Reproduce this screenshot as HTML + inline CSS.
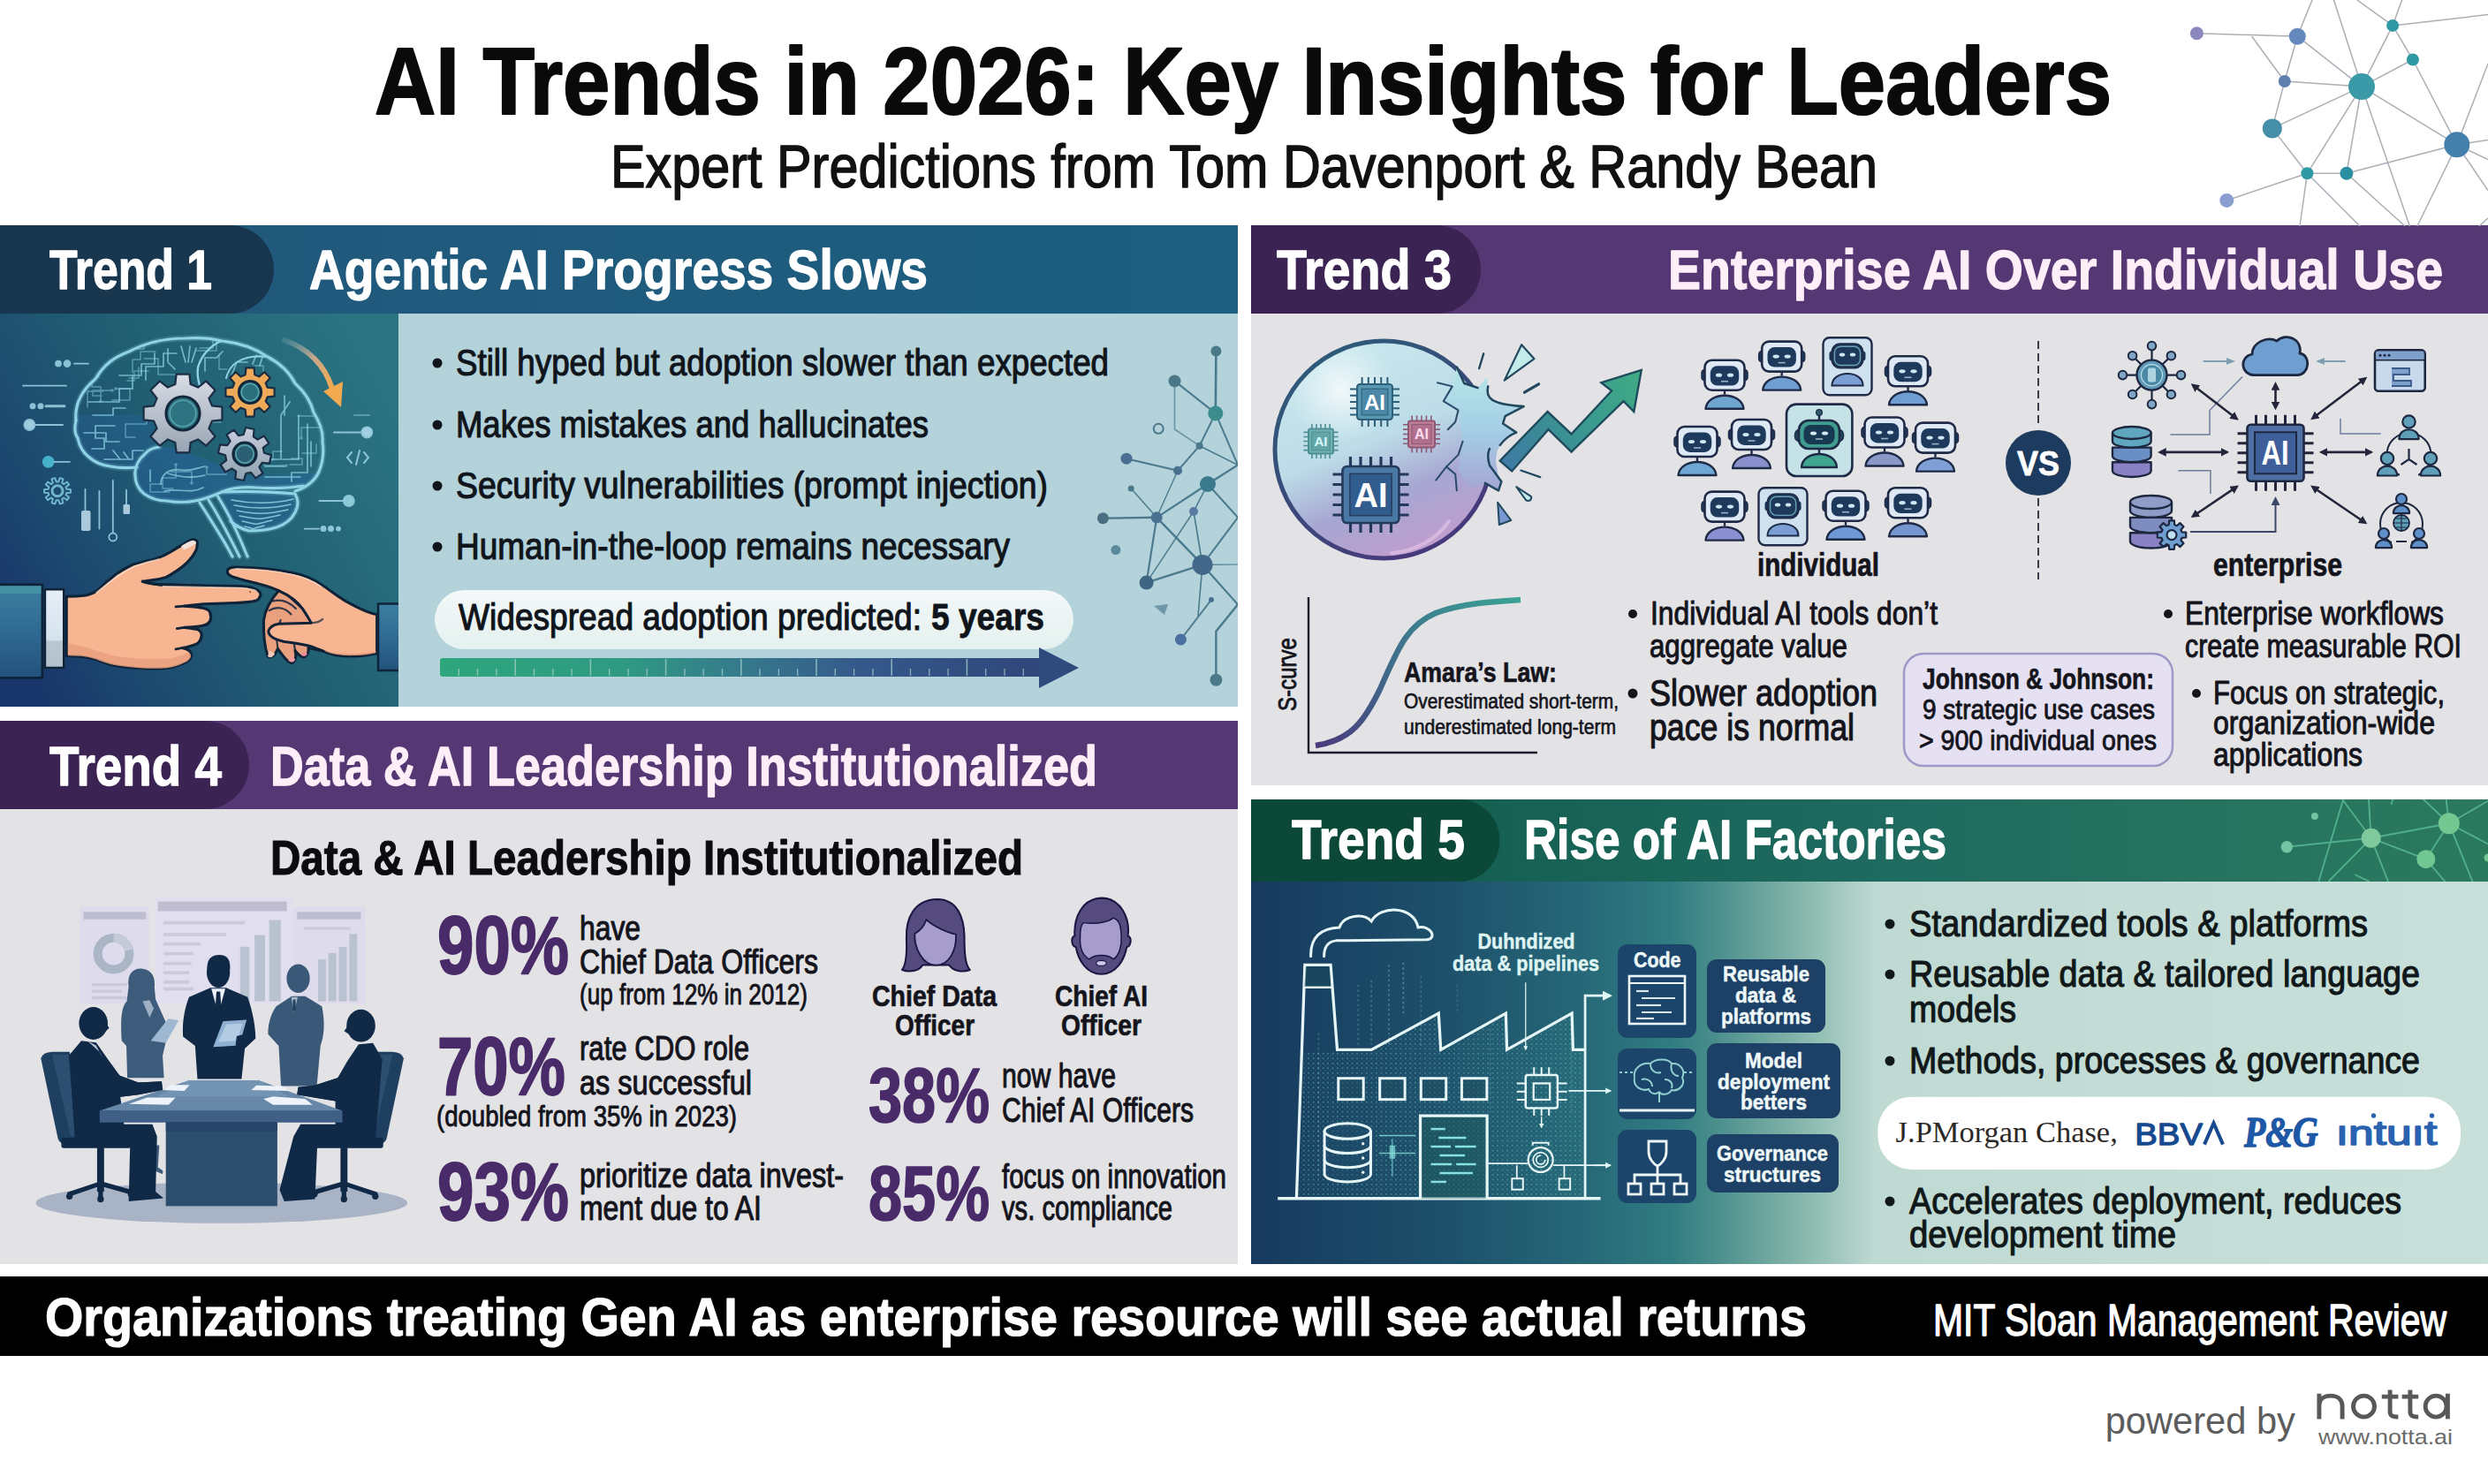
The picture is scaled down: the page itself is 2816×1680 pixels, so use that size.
<!DOCTYPE html>
<html><head><meta charset="utf-8"><title>AI Trends in 2026</title>
<style>
html,body{margin:0;padding:0;background:#fff;}
body{width:2816px;height:1680px;overflow:hidden;font-family:"Liberation Sans",sans-serif;}
svg{display:block}
</style></head><body>
<svg width="2816" height="1680" viewBox="0 0 2816 1680">
<defs>
<linearGradient id="gT1img" x1="0" y1="0.75" x2="1" y2="0.2">
 <stop offset="0" stop-color="#19376a"/><stop offset="0.18" stop-color="#1c486f"/><stop offset="0.5" stop-color="#215e73"/><stop offset="1" stop-color="#2b7583"/>
</linearGradient>
<linearGradient id="gT1hdr" x1="0" y1="0" x2="1" y2="0">
 <stop offset="0" stop-color="#22577a"/><stop offset="1" stop-color="#1c5f80"/>
</linearGradient>
<linearGradient id="gBar" x1="0" y1="0" x2="1" y2="0">
 <stop offset="0" stop-color="#2ea67c"/><stop offset="0.3" stop-color="#2f9a82"/><stop offset="0.5" stop-color="#357a8c"/><stop offset="0.7" stop-color="#35588a"/><stop offset="1" stop-color="#2f467a"/>
</linearGradient>
<linearGradient id="gPill" x1="0" y1="0" x2="0" y2="1">
 <stop offset="0" stop-color="#f4f8f9"/><stop offset="1" stop-color="#e4f1ee"/>
</linearGradient>
<linearGradient id="gT5hdr" x1="0" y1="0" x2="1" y2="0">
 <stop offset="0" stop-color="#0f5a49"/><stop offset="0.5" stop-color="#1e6a60"/><stop offset="1" stop-color="#2b7a5e"/>
</linearGradient>
<linearGradient id="gT5body" x1="0" y1="0" x2="1" y2="0">
 <stop offset="0" stop-color="#173a5e"/><stop offset="0.156" stop-color="#1d506b"/><stop offset="0.277" stop-color="#276a79"/><stop offset="0.34" stop-color="#317c82"/><stop offset="0.375" stop-color="#4a8e8c"/><stop offset="0.419" stop-color="#70a8a0"/><stop offset="0.459" stop-color="#93bfb4"/><stop offset="0.505" stop-color="#bfdad3"/><stop offset="1" stop-color="#c9e0da"/>
</linearGradient>
<linearGradient id="gT5v" x1="0" y1="0" x2="0" y2="1">
 <stop offset="0" stop-color="#0b3a4a" stop-opacity="0.25"/><stop offset="0.3" stop-color="#0b3a4a" stop-opacity="0"/><stop offset="1" stop-color="#0b3a4a" stop-opacity="0"/>
</linearGradient>
<clipPath id="clipT1r"><rect x="451" y="355" width="950" height="445"/></clipPath>
<clipPath id="clipT1l"><rect x="0" y="352" width="451" height="448"/></clipPath>
<clipPath id="clipT5h"><rect x="1416" y="905" width="1400" height="93"/></clipPath>
<clipPath id="clipBrain"><path d="M86 476C84 455 95 440 108 429C118 412 130 404 146 398C165 388 188 383 209 383C225 382 240 383 251 386C272 388 290 395 303 404C318 412 328 422 334 434C345 444 352 455 355 467C362 478 366 489 365 500C367 512 365 524 361 534C356 545 346 552 334 556L290 552C275 551 262 552 251 557C242 561 233 565 221 567C211 569 200 569 188 567C178 567 170 564 163 559C157 554 153 547 153 538L155 529C145 530 135 530 125 528C116 527 108 524 100 517C94 512 90 506 88 496C85 492 84 485 86 476Z"/></clipPath>

</defs>
<rect width="2816" height="1680" fill="#ffffff"/>
<!-- 10_panels.py -->
<rect x="0" y="352" width="451" height="448" fill="url(#gT1img)"/>
<rect x="451" y="355" width="950" height="445" fill="#b3d2da"/>
<rect x="0" y="255" width="1401" height="100" fill="url(#gT1hdr)"/>
<path d="M0 255H260a50 50 0 0 1 0 100H0Z" fill="#18374f"/>
<rect x="1416" y="355" width="1400" height="534" fill="#e3e3e6"/>
<rect x="1416" y="255" width="1400" height="100" fill="#553873"/>
<path d="M1416 255H1626a50 50 0 0 1 0 100H1416Z" fill="#3b2354"/>
<rect x="0" y="916" width="1401" height="515" fill="#e3e3e6"/>
<rect x="0" y="816" width="1401" height="100" fill="#553873"/>
<path d="M0 816H232a50 50 0 0 1 0 100H0Z" fill="#3b2354"/>
<rect x="1416" y="997" width="1400" height="434" fill="url(#gT5body)"/>
<rect x="1416" y="905" width="1400" height="93" fill="url(#gT5hdr)"/>
<path d="M1416 905H1651a46.500 46.500 0 0 1 0 93H1416Z" fill="#0b4838"/>
<rect x="0" y="1445" width="2816" height="90" fill="#000"/>
<!-- 15_net_top.py -->
<g stroke="#a7abb2" stroke-width="1.5" fill="none" opacity="0.95">
<path d="M2486.4 37.7L2600.3 41.2"/>
<path d="M2600.3 41.2L2585.8 92"/>
<path d="M2600.3 41.2L2673 98.1"/>
<path d="M2548.6 41L2585.8 92"/>
<path d="M2600.3 41.2L2617 0"/>
<path d="M2673 98.1L2641.5 0"/>
<path d="M2708.1 28.9L2673 98.1"/>
<path d="M2708.1 28.9L2718.6 0"/>
<path d="M2708.1 28.9L2667.8 0"/>
<path d="M2708.1 28.9L2816 16.6"/>
<path d="M2708.1 28.9L2730.9 67.5"/>
<path d="M2730.9 67.5L2673 98.1"/>
<path d="M2730.9 67.5L2780.8 163.8"/>
<path d="M2585.8 92L2673 98.1"/>
<path d="M2585.8 92L2571.8 145.4"/>
<path d="M2571.8 145.4L2673 98.1"/>
<path d="M2571.8 145.4L2611.4 196.3"/>
<path d="M2673 98.1L2611.4 196.3"/>
<path d="M2673 98.1L2655.9 196.3"/>
<path d="M2673 98.1L2780.8 163.8"/>
<path d="M2673 98.1L2727.4 256"/>
<path d="M2611.4 196.3L2655.9 196.3"/>
<path d="M2611.4 196.3L2520.3 226.9"/>
<path d="M2655.9 196.3L2780.8 163.8"/>
<path d="M2655.9 196.3L2722 256"/>
<path d="M2611.4 196.3L2603 256"/>
<path d="M2611.4 196.3L2671 256"/>
<path d="M2780.8 163.8L2816 72"/>
<path d="M2780.8 163.8L2736 256"/>
<path d="M2780.8 163.8L2816 158.6"/>
<path d="M2780.8 163.8L2816 180.5"/>
<path d="M2780.8 163.8L2816 215.5"/>
<path d="M2806 256L2816 247"/>
</g>
<circle cx="2486.4" cy="37.7" r="7.5" fill="#8a88bd"/>
<circle cx="2600.3" cy="41.2" r="9.5" fill="#6588bd"/>
<circle cx="2708.1" cy="28.9" r="7" fill="#2f9aa4"/>
<circle cx="2730.9" cy="67.5" r="7" fill="#2f9aa4"/>
<circle cx="2585.8" cy="92" r="7" fill="#5f7fae"/>
<circle cx="2673" cy="98.1" r="15" fill="#3b9aa8"/>
<circle cx="2571.8" cy="145.4" r="11" fill="#4590a8"/>
<circle cx="2780.8" cy="163.8" r="14.5" fill="#4580ad"/>
<circle cx="2611.4" cy="196.3" r="7" fill="#2f9aa4"/>
<circle cx="2655.9" cy="196.3" r="7.5" fill="#2a8fa0"/>
<circle cx="2520.3" cy="226.9" r="8" fill="#8a9fcf"/>
<!-- 20_text_head.py -->
<text x="424" y="128.5" font-size="108" font-weight="bold" fill="#0a0a0a" font-family="Liberation Sans, sans-serif" stroke="#0a0a0a" stroke-width="2.16" stroke-linejoin="round" textLength="1966" lengthAdjust="spacingAndGlyphs" >AI Trends in 2026: Key Insights for Leaders</text>
<text x="691" y="211.5" font-size="69" font-weight="normal" fill="#111" font-family="Liberation Sans, sans-serif" stroke="#111" stroke-width="1.5" stroke-linejoin="round" textLength="1434" lengthAdjust="spacingAndGlyphs" >Expert Predictions from Tom Davenport &amp; Randy Bean</text>
<text x="56" y="327" font-size="63" font-weight="bold" fill="#fff" font-family="Liberation Sans, sans-serif" stroke="#fff" stroke-width="1.26" stroke-linejoin="round" textLength="184" lengthAdjust="spacingAndGlyphs" >Trend 1</text>
<text x="350" y="327" font-size="63" font-weight="bold" fill="#fff" font-family="Liberation Sans, sans-serif" stroke="#fff" stroke-width="1.26" stroke-linejoin="round" textLength="700" lengthAdjust="spacingAndGlyphs" >Agentic AI Progress Slows</text>
<text x="1445" y="327" font-size="63" font-weight="bold" fill="#fff" font-family="Liberation Sans, sans-serif" stroke="#fff" stroke-width="1.26" stroke-linejoin="round" textLength="198" lengthAdjust="spacingAndGlyphs" >Trend 3</text>
<text x="1888" y="327" font-size="63" font-weight="bold" fill="#fdeef8" font-family="Liberation Sans, sans-serif" stroke="#fdeef8" stroke-width="1.26" stroke-linejoin="round" textLength="877" lengthAdjust="spacingAndGlyphs" >Enterprise AI Over Individual Use</text>
<text x="56" y="889" font-size="63" font-weight="bold" fill="#fff" font-family="Liberation Sans, sans-serif" stroke="#fff" stroke-width="1.26" stroke-linejoin="round" textLength="195" lengthAdjust="spacingAndGlyphs" >Trend 4</text>
<text x="306" y="889" font-size="63" font-weight="bold" fill="#fdeef8" font-family="Liberation Sans, sans-serif" stroke="#fdeef8" stroke-width="1.26" stroke-linejoin="round" textLength="936" lengthAdjust="spacingAndGlyphs" >Data &amp; AI Leadership Institutionalized</text>
<text x="1462" y="972" font-size="63" font-weight="bold" fill="#fff" font-family="Liberation Sans, sans-serif" stroke="#fff" stroke-width="1.26" stroke-linejoin="round" textLength="196" lengthAdjust="spacingAndGlyphs" >Trend 5</text>
<text x="1725" y="972" font-size="63" font-weight="bold" fill="#fff" font-family="Liberation Sans, sans-serif" stroke="#fff" stroke-width="1.26" stroke-linejoin="round" textLength="478" lengthAdjust="spacingAndGlyphs" >Rise of AI Factories</text>
<text x="51" y="1512" font-size="62" font-weight="bold" fill="#fff" font-family="Liberation Sans, sans-serif" stroke="#fff" stroke-width="1.24" stroke-linejoin="round" textLength="1994" lengthAdjust="spacingAndGlyphs" >Organizations treating Gen AI as enterprise resource will see actual returns</text>
<text x="2188" y="1512" font-size="50" font-weight="normal" fill="#fff" font-family="Liberation Sans, sans-serif" stroke="#fff" stroke-width="1.4" stroke-linejoin="round" textLength="581" lengthAdjust="spacingAndGlyphs" >MIT Sloan Management Review</text>
<text x="2382.7" y="1623.3" font-size="43" font-weight="normal" fill="#5c5c5c" font-family="Liberation Sans, sans-serif" textLength="215.2" lengthAdjust="spacingAndGlyphs" >powered by</text>
<g fill="none" stroke="#585858" stroke-width="4.900" stroke-linecap="butt" stroke-linejoin="round"><path d="M2624.900 1577.700V1606.400M2624.900 1591C2624.900 1584 2630.500 1580.100 2638 1580.100C2645.500 1580.100 2651.100 1584 2651.100 1592V1606.400"/><circle cx="2675.500" cy="1592.100" r="12"/><path d="M2705.100 1573.500V1598C2705.100 1603 2708 1604.300 2714.400 1603.900M2695.800 1581.100H2714.400"/><path d="M2727.900 1573.500V1598C2727.900 1603 2730.800 1604.300 2737.200 1603.900M2718.600 1581.100H2737.200"/><circle cx="2757.100" cy="1592.100" r="12"/><path d="M2770.400 1577.700V1606.400"/></g>
<text x="2624" y="1635" font-size="24" font-weight="normal" fill="#6a6a6a" font-family="Liberation Sans, sans-serif" textLength="152" lengthAdjust="spacingAndGlyphs" >www.notta.ai</text>
<!-- 30_text_t1.py -->
<circle cx="495" cy="411" r="5.5" fill="#10151c"/>
<text x="516" y="425" font-size="42" font-weight="normal" fill="#10151c" font-family="Liberation Sans, sans-serif" stroke="#10151c" stroke-width="1.18" stroke-linejoin="round" textLength="739" lengthAdjust="spacingAndGlyphs" >Still hyped but adoption slower than expected</text>
<circle cx="495" cy="481" r="5.5" fill="#10151c"/>
<text x="516" y="495" font-size="42" font-weight="normal" fill="#10151c" font-family="Liberation Sans, sans-serif" stroke="#10151c" stroke-width="1.18" stroke-linejoin="round" textLength="535" lengthAdjust="spacingAndGlyphs" >Makes mistakes and hallucinates</text>
<circle cx="495" cy="550" r="5.5" fill="#10151c"/>
<text x="516" y="564" font-size="42" font-weight="normal" fill="#10151c" font-family="Liberation Sans, sans-serif" stroke="#10151c" stroke-width="1.18" stroke-linejoin="round" textLength="670" lengthAdjust="spacingAndGlyphs" >Security vulnerabilities (prompt injection)</text>
<circle cx="495" cy="619" r="5.5" fill="#10151c"/>
<text x="516" y="633" font-size="42" font-weight="normal" fill="#10151c" font-family="Liberation Sans, sans-serif" stroke="#10151c" stroke-width="1.18" stroke-linejoin="round" textLength="627" lengthAdjust="spacingAndGlyphs" >Human-in-the-loop remains necessary</text>
<rect x="492" y="668" width="723" height="67" rx="33.5" fill="url(#gPill)"/>
<text x="519" y="713" font-size="42" font-weight="normal" fill="#10151c" font-family="Liberation Sans, sans-serif" stroke="#10151c" stroke-width="1.18" stroke-linejoin="round" textLength="524" lengthAdjust="spacingAndGlyphs" >Widespread adoption predicted:</text>
<text x="1054" y="713" font-size="42" font-weight="bold" fill="#10151c" font-family="Liberation Sans, sans-serif" stroke="#10151c" stroke-width="0.84" stroke-linejoin="round" textLength="128" lengthAdjust="spacingAndGlyphs" >5 years</text>
<rect x="498" y="745" width="682" height="21" rx="3" fill="url(#gBar)"/>
<path d="M1176 733L1221 756L1176 779Z" fill="#2f4a7c"/>
<path d="M519.3 757V765" stroke="#bfe0dc" stroke-width="1.4" opacity="0.6"/>
<path d="M540.6 757V765" stroke="#bfe0dc" stroke-width="1.4" opacity="0.6"/>
<path d="M561.9 757V765" stroke="#bfe0dc" stroke-width="1.4" opacity="0.6"/>
<path d="M583.2 746V765" stroke="#9fd0c8" stroke-width="1.6" opacity="0.75"/>
<path d="M604.5 757V765" stroke="#bfe0dc" stroke-width="1.4" opacity="0.6"/>
<path d="M625.8 757V765" stroke="#bfe0dc" stroke-width="1.4" opacity="0.6"/>
<path d="M647.1 757V765" stroke="#bfe0dc" stroke-width="1.4" opacity="0.6"/>
<path d="M668.4 746V765" stroke="#9fd0c8" stroke-width="1.6" opacity="0.75"/>
<path d="M689.7 757V765" stroke="#bfe0dc" stroke-width="1.4" opacity="0.6"/>
<path d="M711.0 757V765" stroke="#bfe0dc" stroke-width="1.4" opacity="0.6"/>
<path d="M732.3 757V765" stroke="#bfe0dc" stroke-width="1.4" opacity="0.6"/>
<path d="M753.6 746V765" stroke="#9fd0c8" stroke-width="1.6" opacity="0.75"/>
<path d="M774.9 757V765" stroke="#bfe0dc" stroke-width="1.4" opacity="0.6"/>
<path d="M796.2 757V765" stroke="#bfe0dc" stroke-width="1.4" opacity="0.6"/>
<path d="M817.5 757V765" stroke="#bfe0dc" stroke-width="1.4" opacity="0.6"/>
<path d="M838.8 746V765" stroke="#9fd0c8" stroke-width="1.6" opacity="0.75"/>
<path d="M860.1 757V765" stroke="#bfe0dc" stroke-width="1.4" opacity="0.6"/>
<path d="M881.4 757V765" stroke="#bfe0dc" stroke-width="1.4" opacity="0.6"/>
<path d="M902.7 757V765" stroke="#bfe0dc" stroke-width="1.4" opacity="0.6"/>
<path d="M924.0 746V765" stroke="#9fd0c8" stroke-width="1.6" opacity="0.75"/>
<path d="M945.3 757V765" stroke="#bfe0dc" stroke-width="1.4" opacity="0.6"/>
<path d="M966.6 757V765" stroke="#bfe0dc" stroke-width="1.4" opacity="0.6"/>
<path d="M987.9 757V765" stroke="#bfe0dc" stroke-width="1.4" opacity="0.6"/>
<path d="M1009.2 746V765" stroke="#9fd0c8" stroke-width="1.6" opacity="0.75"/>
<path d="M1030.5 757V765" stroke="#bfe0dc" stroke-width="1.4" opacity="0.6"/>
<path d="M1051.8 757V765" stroke="#bfe0dc" stroke-width="1.4" opacity="0.6"/>
<path d="M1073.1 757V765" stroke="#bfe0dc" stroke-width="1.4" opacity="0.6"/>
<path d="M1094.4 746V765" stroke="#9fd0c8" stroke-width="1.6" opacity="0.75"/>
<path d="M1115.7 757V765" stroke="#bfe0dc" stroke-width="1.4" opacity="0.6"/>
<path d="M1137.0 757V765" stroke="#bfe0dc" stroke-width="1.4" opacity="0.6"/>
<path d="M1158.3 757V765" stroke="#bfe0dc" stroke-width="1.4" opacity="0.6"/>
<!-- 31_text_t3.py -->
<text x="1989" y="652" font-size="36" font-weight="bold" fill="#14141c" font-family="Liberation Sans, sans-serif" stroke="#14141c" stroke-width="0.72" stroke-linejoin="round" textLength="138" lengthAdjust="spacingAndGlyphs" >individual</text>
<text x="2505" y="652" font-size="36" font-weight="bold" fill="#14141c" font-family="Liberation Sans, sans-serif" stroke="#14141c" stroke-width="0.72" stroke-linejoin="round" textLength="146" lengthAdjust="spacingAndGlyphs" >enterprise</text>
<circle cx="1848" cy="695" r="5" fill="#14141c"/>
<text x="1868" y="707" font-size="37" font-weight="normal" fill="#14141c" font-family="Liberation Sans, sans-serif" stroke="#14141c" stroke-width="1.04" stroke-linejoin="round" textLength="325" lengthAdjust="spacingAndGlyphs" >Individual AI tools don’t</text>
<text x="1867" y="743.5" font-size="37" font-weight="normal" fill="#14141c" font-family="Liberation Sans, sans-serif" stroke="#14141c" stroke-width="1.04" stroke-linejoin="round" textLength="224" lengthAdjust="spacingAndGlyphs" >aggregate value</text>
<circle cx="1848" cy="785" r="5.5" fill="#14141c"/>
<text x="1867" y="799" font-size="42" font-weight="normal" fill="#14141c" font-family="Liberation Sans, sans-serif" stroke="#14141c" stroke-width="1.18" stroke-linejoin="round" textLength="258" lengthAdjust="spacingAndGlyphs" >Slower adoption</text>
<text x="1867" y="838" font-size="42" font-weight="normal" fill="#14141c" font-family="Liberation Sans, sans-serif" stroke="#14141c" stroke-width="1.18" stroke-linejoin="round" textLength="232" lengthAdjust="spacingAndGlyphs" >pace is normal</text>
<circle cx="2454" cy="695" r="5" fill="#14141c"/>
<text x="2473" y="707" font-size="37" font-weight="normal" fill="#14141c" font-family="Liberation Sans, sans-serif" stroke="#14141c" stroke-width="1.04" stroke-linejoin="round" textLength="293" lengthAdjust="spacingAndGlyphs" >Enterprise workflows</text>
<text x="2473" y="743.5" font-size="37" font-weight="normal" fill="#14141c" font-family="Liberation Sans, sans-serif" stroke="#14141c" stroke-width="1.04" stroke-linejoin="round" textLength="313" lengthAdjust="spacingAndGlyphs" >create measurable ROI</text>
<circle cx="2486" cy="785" r="5" fill="#14141c"/>
<text x="2505" y="797" font-size="37" font-weight="normal" fill="#14141c" font-family="Liberation Sans, sans-serif" stroke="#14141c" stroke-width="1.04" stroke-linejoin="round" textLength="262" lengthAdjust="spacingAndGlyphs" >Focus on strategic,</text>
<text x="2505" y="831" font-size="37" font-weight="normal" fill="#14141c" font-family="Liberation Sans, sans-serif" stroke="#14141c" stroke-width="1.04" stroke-linejoin="round" textLength="251" lengthAdjust="spacingAndGlyphs" >organization-wide</text>
<text x="2505" y="867" font-size="37" font-weight="normal" fill="#14141c" font-family="Liberation Sans, sans-serif" stroke="#14141c" stroke-width="1.04" stroke-linejoin="round" textLength="169" lengthAdjust="spacingAndGlyphs" >applications</text>
<rect x="2155" y="740" width="304" height="127" rx="22" fill="#e5e1f2" stroke="#9d99c6" stroke-width="2.5"/>
<text x="2176" y="780" font-size="33" font-weight="bold" fill="#14141c" font-family="Liberation Sans, sans-serif" stroke="#14141c" stroke-width="0.66" stroke-linejoin="round" textLength="262" lengthAdjust="spacingAndGlyphs" >Johnson &amp; Johnson:</text>
<text x="2176" y="814" font-size="32" font-weight="normal" fill="#14141c" font-family="Liberation Sans, sans-serif" stroke="#14141c" stroke-width="0.9" stroke-linejoin="round" textLength="263" lengthAdjust="spacingAndGlyphs" >9 strategic use cases</text>
<text x="2172" y="849" font-size="32" font-weight="normal" fill="#14141c" font-family="Liberation Sans, sans-serif" stroke="#14141c" stroke-width="0.9" stroke-linejoin="round" textLength="269" lengthAdjust="spacingAndGlyphs" >&gt; 900 individual ones</text>
<text x="1589" y="772" font-size="31" font-weight="bold" fill="#14141c" font-family="Liberation Sans, sans-serif" stroke="#14141c" stroke-width="0.62" stroke-linejoin="round" textLength="173" lengthAdjust="spacingAndGlyphs" >Amara’s Law:</text>
<text x="1589" y="802" font-size="24" font-weight="normal" fill="#14141c" font-family="Liberation Sans, sans-serif" stroke="#14141c" stroke-width="0.67" stroke-linejoin="round" textLength="243" lengthAdjust="spacingAndGlyphs" >Overestimated short-term,</text>
<text x="1589" y="831" font-size="24" font-weight="normal" fill="#14141c" font-family="Liberation Sans, sans-serif" stroke="#14141c" stroke-width="0.67" stroke-linejoin="round" textLength="240" lengthAdjust="spacingAndGlyphs" >underestimated long-term</text>
<path d="M1481 676V852H1740" fill="none" stroke="#1b1b2a" stroke-width="2.4"/>
<g transform="translate(1467,805) rotate(-90)"><text x="0" y="0" font-size="30" font-weight="normal" fill="#14141c" font-family="Liberation Sans, sans-serif" stroke="#14141c" stroke-width="0.84" stroke-linejoin="round" textLength="83" lengthAdjust="spacingAndGlyphs" >S-curve</text></g>
<!-- 32_text_t4.py -->
<text x="306" y="990" font-size="56" font-weight="bold" fill="#0c0c10" font-family="Liberation Sans, sans-serif" stroke="#0c0c10" stroke-width="1.12" stroke-linejoin="round" textLength="852" lengthAdjust="spacingAndGlyphs" >Data &amp; AI Leadership Institutionalized</text>
<text x="495" y="1102" font-size="92" font-weight="bold" fill="#4a2b69" font-family="Liberation Sans, sans-serif" stroke="#4a2b69" stroke-width="1.84" stroke-linejoin="round" textLength="149" lengthAdjust="spacingAndGlyphs" >90%</text>
<text x="656" y="1064" font-size="38" font-weight="normal" fill="#14141c" font-family="Liberation Sans, sans-serif" stroke="#14141c" stroke-width="1.06" stroke-linejoin="round" textLength="69" lengthAdjust="spacingAndGlyphs" >have</text>
<text x="656" y="1102" font-size="38" font-weight="normal" fill="#14141c" font-family="Liberation Sans, sans-serif" stroke="#14141c" stroke-width="1.06" stroke-linejoin="round" textLength="270" lengthAdjust="spacingAndGlyphs" >Chief Data Officers</text>
<text x="656" y="1137" font-size="33" font-weight="normal" fill="#14141c" font-family="Liberation Sans, sans-serif" stroke="#14141c" stroke-width="0.92" stroke-linejoin="round" textLength="258" lengthAdjust="spacingAndGlyphs" >(up from 12% in 2012)</text>
<text x="495" y="1239" font-size="92" font-weight="bold" fill="#4a2b69" font-family="Liberation Sans, sans-serif" stroke="#4a2b69" stroke-width="1.84" stroke-linejoin="round" textLength="145" lengthAdjust="spacingAndGlyphs" >70%</text>
<text x="656" y="1200" font-size="38" font-weight="normal" fill="#14141c" font-family="Liberation Sans, sans-serif" stroke="#14141c" stroke-width="1.06" stroke-linejoin="round" textLength="192" lengthAdjust="spacingAndGlyphs" >rate CDO role</text>
<text x="656" y="1239" font-size="38" font-weight="normal" fill="#14141c" font-family="Liberation Sans, sans-serif" stroke="#14141c" stroke-width="1.06" stroke-linejoin="round" textLength="195" lengthAdjust="spacingAndGlyphs" >as successful</text>
<text x="494" y="1275" font-size="33" font-weight="normal" fill="#14141c" font-family="Liberation Sans, sans-serif" stroke="#14141c" stroke-width="0.92" stroke-linejoin="round" textLength="340" lengthAdjust="spacingAndGlyphs" >(doubled from 35% in 2023)</text>
<text x="495" y="1381" font-size="92" font-weight="bold" fill="#4a2b69" font-family="Liberation Sans, sans-serif" stroke="#4a2b69" stroke-width="1.84" stroke-linejoin="round" textLength="149" lengthAdjust="spacingAndGlyphs" >93%</text>
<text x="656" y="1344" font-size="38" font-weight="normal" fill="#14141c" font-family="Liberation Sans, sans-serif" stroke="#14141c" stroke-width="1.06" stroke-linejoin="round" textLength="299" lengthAdjust="spacingAndGlyphs" >prioritize data invest-</text>
<text x="656" y="1381" font-size="38" font-weight="normal" fill="#14141c" font-family="Liberation Sans, sans-serif" stroke="#14141c" stroke-width="1.06" stroke-linejoin="round" textLength="206" lengthAdjust="spacingAndGlyphs" >ment due to AI</text>
<text x="987" y="1139" font-size="34" font-weight="bold" fill="#14141c" font-family="Liberation Sans, sans-serif" stroke="#14141c" stroke-width="0.68" stroke-linejoin="round" textLength="141" lengthAdjust="spacingAndGlyphs" >Chief Data</text>
<text x="1013" y="1172" font-size="34" font-weight="bold" fill="#14141c" font-family="Liberation Sans, sans-serif" stroke="#14141c" stroke-width="0.68" stroke-linejoin="round" textLength="90" lengthAdjust="spacingAndGlyphs" >Officer</text>
<text x="1194" y="1139" font-size="34" font-weight="bold" fill="#14141c" font-family="Liberation Sans, sans-serif" stroke="#14141c" stroke-width="0.68" stroke-linejoin="round" textLength="105" lengthAdjust="spacingAndGlyphs" >Chief AI</text>
<text x="1201" y="1172" font-size="34" font-weight="bold" fill="#14141c" font-family="Liberation Sans, sans-serif" stroke="#14141c" stroke-width="0.68" stroke-linejoin="round" textLength="91" lengthAdjust="spacingAndGlyphs" >Officer</text>
<text x="983" y="1270" font-size="87" font-weight="bold" fill="#4a2b69" font-family="Liberation Sans, sans-serif" stroke="#4a2b69" stroke-width="1.74" stroke-linejoin="round" textLength="137" lengthAdjust="spacingAndGlyphs" >38%</text>
<text x="1134" y="1231" font-size="38" font-weight="normal" fill="#14141c" font-family="Liberation Sans, sans-serif" stroke="#14141c" stroke-width="1.06" stroke-linejoin="round" textLength="129" lengthAdjust="spacingAndGlyphs" >now have</text>
<text x="1134" y="1270" font-size="38" font-weight="normal" fill="#14141c" font-family="Liberation Sans, sans-serif" stroke="#14141c" stroke-width="1.06" stroke-linejoin="round" textLength="217" lengthAdjust="spacingAndGlyphs" >Chief AI Officers</text>
<text x="983" y="1381" font-size="87" font-weight="bold" fill="#4a2b69" font-family="Liberation Sans, sans-serif" stroke="#4a2b69" stroke-width="1.74" stroke-linejoin="round" textLength="137" lengthAdjust="spacingAndGlyphs" >85%</text>
<text x="1134" y="1345" font-size="38" font-weight="normal" fill="#14141c" font-family="Liberation Sans, sans-serif" stroke="#14141c" stroke-width="1.06" stroke-linejoin="round" textLength="254" lengthAdjust="spacingAndGlyphs" >focus on innovation</text>
<text x="1134" y="1381" font-size="38" font-weight="normal" fill="#14141c" font-family="Liberation Sans, sans-serif" stroke="#14141c" stroke-width="1.06" stroke-linejoin="round" textLength="193" lengthAdjust="spacingAndGlyphs" >vs. compliance</text>
<!-- 33_text_t5.py -->
<circle cx="2139" cy="1046" r="5.5" fill="#10181a"/>
<text x="2161" y="1060" font-size="42" font-weight="normal" fill="#10181a" font-family="Liberation Sans, sans-serif" stroke="#10181a" stroke-width="1.18" stroke-linejoin="round" textLength="519" lengthAdjust="spacingAndGlyphs" >Standardized tools &amp; platforms</text>
<circle cx="2139" cy="1103" r="5.5" fill="#10181a"/>
<text x="2161" y="1117" font-size="42" font-weight="normal" fill="#10181a" font-family="Liberation Sans, sans-serif" stroke="#10181a" stroke-width="1.18" stroke-linejoin="round" textLength="578" lengthAdjust="spacingAndGlyphs" >Reusable data &amp; tailored language</text>
<text x="2161" y="1157" font-size="42" font-weight="normal" fill="#10181a" font-family="Liberation Sans, sans-serif" stroke="#10181a" stroke-width="1.18" stroke-linejoin="round" textLength="121" lengthAdjust="spacingAndGlyphs" >models</text>
<circle cx="2139" cy="1201" r="5.5" fill="#10181a"/>
<text x="2161" y="1215" font-size="42" font-weight="normal" fill="#10181a" font-family="Liberation Sans, sans-serif" stroke="#10181a" stroke-width="1.18" stroke-linejoin="round" textLength="578" lengthAdjust="spacingAndGlyphs" >Methods, processes &amp; governance</text>
<circle cx="2139" cy="1360" r="5.5" fill="#10181a"/>
<text x="2161" y="1374" font-size="42" font-weight="normal" fill="#10181a" font-family="Liberation Sans, sans-serif" stroke="#10181a" stroke-width="1.18" stroke-linejoin="round" textLength="557" lengthAdjust="spacingAndGlyphs" >Accelerates deployment, reduces</text>
<text x="2161" y="1412" font-size="42" font-weight="normal" fill="#10181a" font-family="Liberation Sans, sans-serif" stroke="#10181a" stroke-width="1.18" stroke-linejoin="round" textLength="302" lengthAdjust="spacingAndGlyphs" >development time</text>
<rect x="2125.400" y="1241.700" width="659.600" height="82.200" rx="38" fill="#ffffff"/>
<text x="2145.6" y="1293" font-size="33" font-weight="normal" fill="#2b2826" font-family="Liberation Serif, sans-serif" textLength="251.2" lengthAdjust="spacingAndGlyphs" >J.PMorgan Chase,</text>
<text x="2416.2" y="1295.6" font-size="35.5" font-weight="normal" fill="#17498f" font-family="Liberation Sans, sans-serif" stroke="#17498f" stroke-width="1.3" stroke-linejoin="round" textLength="76.8" lengthAdjust="spacingAndGlyphs" >BBV</text>
<path d="M2495 1295.600L2505.500 1271.500L2516 1295.600" fill="none" stroke="#17498f" stroke-width="4" stroke-linejoin="miter"/>
<text x="2540" y="1298" font-size="49" font-weight="bold" fill="#1d57a5" font-family="Liberation Serif, sans-serif" stroke="#1d57a5" stroke-width="1.4" stroke-linejoin="round" font-style="italic" textLength="83.6" lengthAdjust="spacingAndGlyphs" >P&amp;G</text>
<text x="2643.8" y="1295.6" font-size="39" font-weight="normal" fill="#2a62b0" font-family="Liberation Sans, sans-serif" stroke="#2a62b0" stroke-width="1.6" stroke-linejoin="round" textLength="114.4" lengthAdjust="spacingAndGlyphs" >ıntuıt</text>
<circle cx="2686.5" cy="1263" r="2.7" fill="#2a62b0"/><circle cx="2752.500" cy="1263" r="2.7" fill="#2a62b0"/>
<!-- 40_t1_illus.py -->
<g clip-path="url(#clipT1l)">
<g fill="none" stroke-linecap="round" stroke-linejoin="round">
<path d="M180 506C172 507 168 509 164 514C157 520 152 529 153 538C153 547 157 554 163 559C170 564 178 567 188 567C200 569 211 569 221 567C233 565 242 561 251 557C262 552 275 551 290 552C308 553 325 553 343 550L361 534C340 540 300 536 270 540C240 520 200 505 180 506Z" fill="#2a66ac" opacity="0.35"/>
<path d="M251 557C270 556 300 556 334 559C338 566 338 573 334 580C330 588 322 594 313 597C303 600 292 601 282 601C274 599 266 595 261 590Z" fill="#2a66ac" opacity="0.3"/>
<path d="M86 476C84 485 85 492 88 496C90 506 94 512 100 517C108 524 116 527 125 528C135 530 145 530 155 529C160 515 170 508 180 506L185 470L86 470Z" fill="#2a66ac" opacity="0.25"/>
<g stroke="#8fd3e6" stroke-width="7" opacity="0.2">
<path d="M86 476C84 455 95 440 108 429C118 412 130 404 146 398C165 388 188 383 209 383C225 382 240 383 251 386C272 388 290 395 303 404C318 412 328 422 334 434C345 444 352 455 355 467C362 478 366 489 365 500C367 512 365 524 361 534C356 545 346 552 334 556"/>
<path d="M86 476C84 485 85 492 88 496C90 506 94 512 100 517C108 524 116 527 125 528C135 530 145 530 155 529"/>
<path d="M180 506C172 507 168 509 164 514C157 520 152 529 153 538C153 547 157 554 163 559C170 564 178 567 188 567C200 569 211 569 221 567C233 565 242 561 251 557C262 552 275 551 290 552C308 553 325 553 343 550"/>
<path d="M251 557C270 556 300 556 334 559C338 566 338 573 334 580C330 588 322 594 313 597C303 600 292 601 282 601C274 599 266 595 261 590"/>
<path d="M226 569C236 585 250 605 263 630M246 561C258 580 270 605 280 630M236 566C247 583 259 606 271 630"/>
</g>
<g stroke="#8fd3e6" stroke-width="3.2" opacity="1">
<path d="M86 476C84 455 95 440 108 429C118 412 130 404 146 398C165 388 188 383 209 383C225 382 240 383 251 386C272 388 290 395 303 404C318 412 328 422 334 434C345 444 352 455 355 467C362 478 366 489 365 500C367 512 365 524 361 534C356 545 346 552 334 556"/>
<path d="M86 476C84 485 85 492 88 496C90 506 94 512 100 517C108 524 116 527 125 528C135 530 145 530 155 529"/>
<path d="M180 506C172 507 168 509 164 514C157 520 152 529 153 538C153 547 157 554 163 559C170 564 178 567 188 567C200 569 211 569 221 567C233 565 242 561 251 557C262 552 275 551 290 552C308 553 325 553 343 550"/>
<path d="M251 557C270 556 300 556 334 559C338 566 338 573 334 580C330 588 322 594 313 597C303 600 292 601 282 601C274 599 266 595 261 590"/>
<path d="M226 569C236 585 250 605 263 630M246 561C258 580 270 605 280 630M236 566C247 583 259 606 271 630"/>
</g>
<path d="M250 386C238 392 228 402 224 416C223 424 224 430 226 436" stroke="#8fd3e6" stroke-width="2.4"/>
<path d="M303 404C290 402 278 404 268 410C262 414 258 420 256 428" stroke="#8fd3e6" stroke-width="2"/>
<path d="M262 566C282 570 307 571 332 565" stroke="#8fd3e6" stroke-width="1.5" opacity="0.85"/>
<path d="M265 572C285 576 304 577 329 571" stroke="#8fd3e6" stroke-width="1.5" opacity="0.85"/>
<path d="M268 578C288 582 301 583 326 577" stroke="#8fd3e6" stroke-width="1.5" opacity="0.85"/>
<path d="M271 584C291 588 292 589 317 583" stroke="#8fd3e6" stroke-width="1.5" opacity="0.85"/>
<path d="M274 590C294 594 283 595 308 589" stroke="#8fd3e6" stroke-width="1.5" opacity="0.85"/>
<path d="M277 596C297 600 274 601 299 595" stroke="#8fd3e6" stroke-width="1.5" opacity="0.85"/>
<g stroke="#8fd3e6" stroke-width="1.7" opacity="0.75">
<path d="M100 455H135V440H150"/>
<path d="M105 470H128V462H142"/>
<path d="M95 490H120V500H135"/>
<path d="M104 508H118V496H108V482H130"/>
<path d="M118 520H150V510H162"/>
<path d="M135 425H160V412H175V400"/>
<path d="M150 440V425"/>
<path d="M165 430V415H185V400H200"/>
<path d="M190 395V410L198 418"/>
<path d="M205 392L210 410M215 392L213 410M222 394L217 410"/>
<path d="M232 420V405H245L252 398"/>
<path d="M262 425L268 410H280"/>
<path d="M286 412L290 402M294 414L297 404"/>
<path d="M322 448V470M338 470V520H320"/>
<path d="M348 480V535H330V545"/>
<path d="M352 500V528"/>
<path d="M328 455L318 470V520H305"/>
<path d="M300 540H340"/>
<path d="M170 545V532M182 548C182 538 190 530 205 532C215 534 222 530 232 528"/>
<path d="M186 556C200 552 215 560 230 552"/>
<path d="M190 536C205 540 215 542 232 538"/>
<path d="M300 528H322"/>
<path d="M128 510L136 520M140 512L146 520"/>
</g>
</g>
<g clip-path="url(#clipBrain)" fill="none" stroke="#8fd3e6" stroke-width="1.5" opacity="0.5" stroke-linecap="round" stroke-linejoin="round">
<path d="M213 486H230V478H250"/>
<path d="M117 443H99V461"/>
<path d="M257 418H248V402"/>
<path d="M144 431H152V420H168"/>
<path d="M342 406H363V412H348"/>
<path d="M196 553H184V541H199V526"/>
<circle cx="199" cy="526" r="1.8" fill="#8fd3e6" stroke="none"/>
<path d="M115 448H105V442H127"/>
<circle cx="127" cy="442" r="1.8" fill="#8fd3e6" stroke="none"/>
<path d="M288 414H298V432H285V450"/>
<circle cx="285" cy="450" r="1.8" fill="#8fd3e6" stroke="none"/>
<path d="M142 559H133V551H142V567"/>
<circle cx="142" cy="567" r="1.8" fill="#8fd3e6" stroke="none"/>
<path d="M112 427H104V438H114V454"/>
<circle cx="114" cy="454" r="1.8" fill="#8fd3e6" stroke="none"/>
<path d="M153 495H142V480H166V469"/>
<circle cx="166" cy="469" r="1.8" fill="#8fd3e6" stroke="none"/>
<path d="M102 554H115V563"/>
<circle cx="115" cy="563" r="1.8" fill="#8fd3e6" stroke="none"/>
<path d="M285 404H303V394"/>
<path d="M147 395H163V388H177"/>
<path d="M127 453H147V440H131"/>
<circle cx="131" cy="440" r="1.8" fill="#8fd3e6" stroke="none"/>
<path d="M176 398H159V407H150V422"/>
<path d="M290 510H299V527H324"/>
<circle cx="324" cy="527" r="1.8" fill="#8fd3e6" stroke="none"/>
<path d="M226 394H241V381H231V363"/>
<path d="M248 466H234V454"/>
<circle cx="234" cy="454" r="1.8" fill="#8fd3e6" stroke="none"/>
<path d="M339 435H352V423"/>
<path d="M184 548H170V557H192"/>
<path d="M146 428H157V416"/>
<path d="M319 511H309V521H286"/>
<circle cx="286" cy="521" r="1.8" fill="#8fd3e6" stroke="none"/>
<path d="M201 424H179V406H163"/>
<path d="M268 528H256V537H234V529"/>
<circle cx="234" cy="529" r="1.8" fill="#8fd3e6" stroke="none"/>
<path d="M342 513H358V503"/>
<path d="M328 526H342V519H330"/>
<path d="M355 556H367V546H359V559"/>
<path d="M223 397H245V384"/>
<path d="M337 471H363V484H341V496"/>
<circle cx="341" cy="496" r="1.8" fill="#8fd3e6" stroke="none"/>
<path d="M194 534H217V547"/>
<circle cx="217" cy="547" r="1.8" fill="#8fd3e6" stroke="none"/>
</g>
<defs><linearGradient id="gGearG" x1="0" y1="0" x2="0" y2="1"><stop offset="0" stop-color="#d9dde6"/><stop offset="1" stop-color="#98a4b3"/></linearGradient><linearGradient id="gGearS" x1="0" y1="0" x2="0" y2="1"><stop offset="0" stop-color="#c9cfe0"/><stop offset="1" stop-color="#8ea0ad"/></linearGradient><linearGradient id="gArrowO" x1="0" y1="0" x2="1" y2="1"><stop offset="0" stop-color="#8fb0b8" stop-opacity="0.25"/><stop offset="0.5" stop-color="#c9a88a"/><stop offset="1" stop-color="#f2aa50"/></linearGradient></defs>
<path d="M215.7 500.9L214.4 512.4L199.6 512.4L198.3 500.9L189.9 497.4L180.8 504.6L170.4 494.2L177.6 485.1L174.1 476.7L162.6 475.4L162.6 460.6L174.1 459.3L177.6 450.9L170.4 441.8L180.8 431.4L189.9 438.6L198.3 435.1L199.6 423.6L214.4 423.6L215.7 435.1L224.1 438.6L233.2 431.4L243.6 441.8L236.4 450.9L239.9 459.3L251.4 460.6L251.4 475.4L239.9 476.7L236.4 485.1L243.6 494.2L233.2 504.6L224.1 497.4Z" fill="url(#gGearG)" stroke="#1b2d44" stroke-width="2.2" stroke-linejoin="round"/><circle cx="207" cy="468" r="19" fill="#2f7382" stroke="#12283c" stroke-width="3.2"/><circle cx="207" cy="468" r="14.8" fill="none" stroke="#5fb0b8" stroke-width="1.6" opacity="0.8"/>
<path d="M288.3 463.8L287.6 471.6L278.4 471.6L277.7 463.8L272.7 461.7L266.7 466.8L260.2 460.3L265.3 454.3L263.2 449.3L255.4 448.6L255.4 439.4L263.2 438.7L265.3 433.7L260.2 427.7L266.7 421.2L272.7 426.3L277.7 424.2L278.4 416.4L287.6 416.4L288.3 424.2L293.3 426.3L299.3 421.2L305.8 427.7L300.7 433.7L302.8 438.7L310.6 439.4L310.6 448.6L302.8 449.3L300.7 454.3L305.8 460.3L299.3 466.8L293.3 461.7Z" fill="#eeaa58" stroke="#1b2d44" stroke-width="2.2" stroke-linejoin="round"/><circle cx="283" cy="444" r="12.5" fill="#2c6f7c" stroke="#12283c" stroke-width="3.2"/><circle cx="283" cy="444" r="9.8" fill="none" stroke="#5fb0b8" stroke-width="1.6" opacity="0.8"/>
<path d="M278.3 536.0L275.9 544.0L266.3 542.0L267.2 533.7L262.4 530.4L255.1 534.5L249.6 526.2L256.2 521.1L255.0 515.3L247.0 512.9L249.0 503.3L257.3 504.2L260.6 499.4L256.5 492.1L264.8 486.6L269.9 493.2L275.7 492.0L278.1 484.0L287.7 486.0L286.8 494.3L291.6 497.6L298.9 493.5L304.4 501.8L297.8 506.9L299.0 512.7L307.0 515.1L305.0 524.7L296.7 523.8L293.4 528.6L297.5 535.9L289.2 541.4L284.1 534.8Z" fill="url(#gGearS)" stroke="#1b2d44" stroke-width="2.2" stroke-linejoin="round"/><circle cx="277" cy="514" r="13" fill="#2b5f74" stroke="#12283c" stroke-width="3.2"/><circle cx="277" cy="514" r="10.1" fill="none" stroke="#5fb0b8" stroke-width="1.6" opacity="0.8"/>
<path d="M322 385C350 395 368 415 376 440" fill="none" stroke="url(#gArrowO)" stroke-width="6" stroke-linecap="round"/>
<path d="M366 443L388 432L386 461Z" fill="#f2aa50"/>
<g stroke="#9fd6e8" stroke-width="1.8" fill="#9fd6e8" opacity="0.85" stroke-linecap="round">
<circle cx="66" cy="411.6" r="3"/><circle cx="76" cy="411.6" r="3.4"/><path d="M84 411.6H100"/>
<path d="M26 436.7H75"/>
<circle cx="37" cy="459.7" r="2.6"/><circle cx="46" cy="459.7" r="2.6"/><path d="M52 459.7H73" stroke-width="3"/>
<circle cx="33.4" cy="481" r="6" fill="#b6e2f2"/><path d="M40 481H71"/>
<circle cx="54.7" cy="522.8" r="6" fill="#4ec3dc" stroke="#4ec3dc"/><path d="M61 522.8H79"/>
<path d="M96.500 553.700V578M112.400 555.800V598.600M127.800 544V603M143 554.700V571"/>
<rect x="92" y="578" width="10.5" height="23" rx="2" fill="#c5dff0" stroke="none"/>
<rect x="139.500" y="571" width="7.5" height="11" rx="1.5" fill="#c5dff0" stroke="none"/>
<circle cx="127.800" cy="608" r="4.500" fill="none"/>
<path d="M401 470H418" opacity="0.5"/>
<circle cx="415.3" cy="489.5" r="6" fill="#b6e2f2"/><path d="M378 489.5H409"/>
<circle cx="394.8" cy="567" r="6" fill="#9fdce8"/><path d="M361.400 567H388"/>
<path d="M344.700 598.600H361"/><circle cx="366" cy="598.6" r="2.6"/><circle cx="374.500" cy="598.6" r="2.6"/><circle cx="383" cy="598.6" r="2"/>
<path d="M398 512L393 518L398 524M412 512L417 518L412 524M407 510L403 526" fill="none" stroke-width="2"/>
</g>
<path d="M75.3 553.7L79.9 553.9L79.9 557.7L75.3 557.9L74.6 560.2L78.1 563.0L75.9 566.1L72.1 563.5L70.2 564.9L71.4 569.4L67.8 570.5L66.2 566.2L63.8 566.2L62.2 570.5L58.6 569.4L59.8 564.9L57.9 563.5L54.1 566.1L51.9 563.0L55.4 560.2L54.7 557.9L50.1 557.7L50.1 553.9L54.7 553.7L55.4 551.4L51.9 548.6L54.1 545.5L57.9 548.1L59.8 546.7L58.6 542.2L62.2 541.1L63.8 545.4L66.2 545.4L67.8 541.1L71.4 542.2L70.2 546.7L72.1 548.1L75.9 545.5L78.1 548.6L74.6 551.4Z" fill="none" stroke="#6fb6cc" stroke-width="2" stroke-linejoin="round"/><circle cx="65" cy="555.8" r="6" fill="none" stroke="#6fb6cc" stroke-width="3"/><circle cx="65" cy="555.8" r="4.7" fill="none" stroke="none" stroke-width="1.6" opacity="0.8"/>
<defs><linearGradient id="gSleeve" x1="0" y1="0" x2="0" y2="1"><stop offset="0" stop-color="#3c7f9f"/><stop offset="0.5" stop-color="#2f6a92"/><stop offset="1" stop-color="#23527c"/></linearGradient><linearGradient id="gCuff" x1="0" y1="0" x2="0" y2="1"><stop offset="0" stop-color="#e6eff8"/><stop offset="0.65" stop-color="#d5e2ee"/><stop offset="0.66" stop-color="#b9c7d2"/><stop offset="1" stop-color="#b2c1cc"/></linearGradient></defs>
<g transform="translate(0,600) scale(0.12131)" stroke-linejoin="round" stroke-linecap="round">
<rect x="-40" y="510" width="435" height="870" fill="url(#gSleeve)" stroke="#0f2338" stroke-width="22"/>
<rect x="-30" y="522" width="414" height="70" fill="#4a9aa8" opacity="0.75"/>
<rect x="420" y="555" width="175" height="730" fill="url(#gCuff)" stroke="#0f2338" stroke-width="20"/>
<path d="M620 620C700 620 760 615 800 610C840 600 870 590 900 570C940 540 970 510 1000 480C1040 450 1070 420 1100 400C1150 370 1200 340 1250 320C1320 300 1390 285 1450 270C1510 250 1560 225 1600 200C1640 175 1670 155 1700 140C1740 115 1770 95 1800 90C1830 90 1845 105 1840 125C1842 150 1838 170 1830 190C1810 230 1785 265 1750 300C1720 330 1690 355 1650 380C1620 400 1590 420 1550 440C1500 458 1450 466 1400 470L1330 480C1400 500 1450 508 1500 510L1900 520L2250 525C2320 530 2370 540 2400 560C2425 575 2435 592 2430 610C2425 635 2410 650 2390 660C2330 675 2270 678 2200 680L1900 690L1720 710C1800 715 1860 720 1900 730C1935 740 1955 752 1960 770C1970 800 1970 825 1960 850C1945 875 1925 885 1900 890C1840 903 1780 908 1720 910C1770 915 1815 920 1850 930C1875 945 1885 965 1880 990C1875 1025 1862 1048 1840 1060C1795 1082 1750 1093 1700 1100C1730 1108 1755 1116 1770 1130C1785 1150 1788 1170 1780 1190C1765 1220 1735 1238 1700 1250C1655 1270 1610 1282 1560 1290C1470 1296 1385 1296 1300 1290C1210 1284 1130 1275 1050 1260C995 1246 945 1228 900 1210C850 1195 800 1185 750 1180L620 1175Z" fill="#f7b592" stroke="#0f2338" stroke-width="26"/>
<path d="M634 1060C760 1075 900 1130 1050 1170C1200 1200 1400 1210 1560 1200C1640 1190 1710 1170 1760 1140C1785 1160 1786 1180 1775 1195C1760 1222 1730 1238 1698 1248C1655 1268 1610 1280 1560 1287C1470 1293 1385 1293 1300 1287C1210 1281 1130 1272 1050 1257C995 1243 945 1225 900 1207C850 1192 800 1182 750 1177L634 1172Z" fill="#e9a07f" opacity="0.85" stroke="none"/>
<path d="M1330 480C1400 500 1450 508 1500 510L1900 520" fill="none" stroke="#0f2338" stroke-width="26"/>
<path d="M1720 710L1640 716M1720 910L1650 920M1700 1100L1640 1112" fill="none" stroke="#0f2338" stroke-width="22"/>
<path d="M1690 150C1730 122 1770 100 1800 96C1822 98 1832 110 1828 128C1790 150 1750 172 1712 186Z" fill="#f1e3dc"/>
<path d="M900 585C1000 500 1100 420 1250 340C1350 305 1420 290 1480 272" fill="none" stroke="#fde3d0" stroke-width="14" opacity="0.75"/>
<path d="M1520 525L2250 540C2310 545 2360 552 2390 568" fill="none" stroke="#fde3d0" stroke-width="12" opacity="0.7"/>
<circle cx="2335" cy="578" r="9" fill="#7a2a2a" opacity="0.7"/>
</g>
<rect x="428" y="683.500" width="26" height="75.500" fill="url(#gSleeve)" stroke="#0f2338" stroke-width="2.5"/>
<g transform="translate(240,620) scale(0.107843)" stroke-linejoin="round" stroke-linecap="round">
<path d="M700 450C640 520 560 620 542 760C538 900 555 1050 585 1140C610 1165 650 1150 690 1060C720 1100 770 1190 830 1212C870 1210 890 1150 872 1080C900 1120 940 1155 975 1145C1010 1120 1015 1080 1010 1050L1180 1090L1040 780L950 640L800 500Z" fill="#e9a07f" stroke="#0f2338" stroke-width="28"/>
<path d="M690 1060C670 960 680 860 720 760M872 1080C850 980 860 900 885 820M600 660C680 610 770 630 830 700M640 560C720 540 800 560 880 640" fill="none" stroke="#0f2338" stroke-width="20" opacity="0.85"/>
<path d="M585 1140C610 1165 640 1150 660 1110L600 1080Z" fill="#f3c9b8"/><path d="M800 1185C830 1212 860 1205 875 1170L830 1140Z" fill="#ee9aa0"/><path d="M935 1130C960 1150 990 1140 1000 1110L960 1090Z" fill="#ee8a98"/>
<path d="M1730 700C1650 690 1560 650 1400 560C1300 500 1230 440 1150 390C1050 320 950 285 850 265C700 232 500 210 250 205C200 205 165 210 160 250C160 290 200 305 350 345C450 368 600 405 700 450C800 495 900 570 950 640C990 700 1020 750 1040 790L700 800C640 810 600 840 592 880C596 930 640 960 750 985C850 998 960 1010 1050 1040C1100 1060 1140 1075 1180 1090C1250 1125 1350 1145 1500 1140C1580 1138 1660 1125 1730 1110Z" fill="#f7b592" stroke="#0f2338" stroke-width="28"/>
<path d="M1040 790C1080 790 1130 780 1160 750" fill="none" stroke="#0f2338" stroke-width="20" opacity="0.7"/>
<path d="M1180 1070C1250 1100 1350 1118 1500 1112C1580 1110 1660 1098 1720 1085L1720 1105C1660 1120 1580 1130 1500 1132C1350 1136 1250 1118 1185 1088Z" fill="#e9a07f" opacity="0.8" stroke="none"/>
<path d="M250 222C450 222 700 250 850 285C950 305 1050 345 1140 405" fill="none" stroke="#fde0cc" stroke-width="14" opacity="0.7"/>
</g>
</g>
<!-- 41_t1_net.py -->
<g clip-path="url(#clipT1r)">
<g stroke="#4a7a8c" fill="none" stroke-linecap="round">
<path d="M1376.4 397.5L1375.8 467.9" stroke-width="2.6"/>
<path d="M1329.5 431.4L1375.8 467.9" stroke-width="2"/>
<path d="M1375.8 467.9L1357.6 504.7" stroke-width="2"/>
<path d="M1375.8 467.9L1401 526.4" stroke-width="2"/>
<path d="M1357.6 504.7L1401 526.4" stroke-width="1.6"/>
<path d="M1357.6 504.7L1333 532.8" stroke-width="2"/>
<path d="M1275 519.2L1333 532.8" stroke-width="2.2"/>
<path d="M1333 532.8L1309.2 585.8" stroke-width="1.4"/>
<path d="M1367 548L1401 526.4" stroke-width="2.4"/>
<path d="M1367 548L1309.2 585.8" stroke-width="2.2"/>
<path d="M1367 548L1351 579" stroke-width="1.6"/>
<path d="M1367 548L1401 585.8" stroke-width="2"/>
<path d="M1280.2 553L1309.2 585.8" stroke-width="1.4"/>
<path d="M1248.4 586.7L1309.2 585.8" stroke-width="2.4"/>
<path d="M1309.2 585.8L1361 639.4" stroke-width="2.4"/>
<path d="M1309.2 585.8L1297.6 659.6" stroke-width="2.2"/>
<path d="M1351 579L1361 639.4" stroke-width="1.6"/>
<path d="M1351 579L1297.6 659.6" stroke-width="1.4"/>
<path d="M1361 639.4L1297.6 659.6" stroke-width="2.2"/>
<path d="M1361 639.4L1401 585.8" stroke-width="2"/>
<path d="M1361 639.4L1401 639" stroke-width="1.2"/>
<path d="M1361 639.4L1401 684.3" stroke-width="2.2"/>
<path d="M1361 639.4L1356 697" stroke-width="1.6"/>
<path d="M1336.4 724L1371 679" stroke-width="2"/>
<path d="M1329.500 431.400V486L1357.600 504.700" stroke-width="1.6" opacity="0.7"/>
<path d="M1401 684.300L1376.400 714.700V769.700" stroke-width="2.4"/>
<circle cx="1311.200" cy="485.3" r="5.5" stroke-width="2"/>
</g>
<path d="M1306 686L1322 684L1318 696Z" fill="#5a8a9a" opacity="0.8"/>
<circle cx="1376.4" cy="397.5" r="6" fill="#4a7a88"/>
<circle cx="1329.5" cy="431.4" r="7" fill="#4a7888"/>
<circle cx="1375.8" cy="467.9" r="8.5" fill="#3a8d8c"/>
<circle cx="1357.6" cy="504.7" r="4" fill="#4a7888"/>
<circle cx="1275" cy="519.2" r="6.5" fill="#4a6f92"/>
<circle cx="1333" cy="532.8" r="5" fill="#4a7090"/>
<circle cx="1367" cy="548" r="9" fill="#3a7a8c"/>
<circle cx="1280.2" cy="553" r="3.5" fill="#4a7888"/>
<circle cx="1248.4" cy="586.7" r="6.5" fill="#4a6f82"/>
<circle cx="1309.2" cy="585.8" r="6.5" fill="#4a7092"/>
<circle cx="1351" cy="579" r="5" fill="#5a7aa2"/>
<circle cx="1262.9" cy="622.6" r="5.5" fill="#5a8a9a"/>
<circle cx="1361" cy="639.4" r="11.5" fill="#44688a"/>
<circle cx="1297.6" cy="659.6" r="8" fill="#3f6585"/>
<circle cx="1336.4" cy="724" r="6.5" fill="#4a70a0"/>
<circle cx="1376.4" cy="769.7" r="7" fill="#4a7a88"/>
<circle cx="1371" cy="679" r="3" fill="#4a7090"/>
</g>
<!-- 42_t3_bubble.py -->
<defs>
<linearGradient id="gBub" x1="0.3" y1="0" x2="0.7" y2="1"><stop offset="0" stop-color="#c9e8ee"/><stop offset="0.45" stop-color="#bcdce8"/><stop offset="0.7" stop-color="#a7a6d2"/><stop offset="1" stop-color="#c39dcf"/></linearGradient>
<linearGradient id="gBubS" x1="0" y1="0" x2="0.6" y2="1"><stop offset="0" stop-color="#2a5f78"/><stop offset="1" stop-color="#473a7c"/></linearGradient>
<radialGradient id="gBubHi" cx="0.3" cy="0.22" r="0.25"><stop offset="0" stop-color="#ffffff" stop-opacity="0.75"/><stop offset="1" stop-color="#ffffff" stop-opacity="0"/></radialGradient>
<linearGradient id="gArr3" gradientUnits="userSpaceOnUse" x1="1700" y1="530" x2="1858" y2="420"><stop offset="0" stop-color="#3a7b98"/><stop offset="0.5" stop-color="#3a9494"/><stop offset="1" stop-color="#40aa82"/></linearGradient>
<linearGradient id="gBurst" x1="0" y1="0" x2="0" y2="1"><stop offset="0" stop-color="#b7e6e8"/><stop offset="0.5" stop-color="#a5cfe6"/><stop offset="1" stop-color="#a4a6d4"/></linearGradient>
<linearGradient id="gSc" gradientUnits="userSpaceOnUse" x1="1489" y1="844" x2="1721" y2="680"><stop offset="0" stop-color="#4a3a7c"/><stop offset="0.45" stop-color="#3f6f8c"/><stop offset="1" stop-color="#3aa394"/></linearGradient>
<linearGradient id="gArr3z" gradientUnits="userSpaceOnUse" x1="580" y1="900" x2="1530" y2="290"><stop offset="0" stop-color="#3f7ba6"/><stop offset="0.3" stop-color="#3a8a96"/><stop offset="0.6" stop-color="#3a9c90"/><stop offset="1" stop-color="#40aa82"/></linearGradient>
</defs>
<circle cx="1566" cy="509" r="123" fill="url(#gBub)" stroke="url(#gBubS)" stroke-width="5"/>
<circle cx="1566" cy="509" r="120" fill="url(#gBubHi)"/>
<path d="M1640 590C1625 612 1600 624 1575 626" fill="none" stroke="#e8c8e8" stroke-width="4" opacity="0.6" stroke-linecap="round"/>
<g transform="translate(1600,370) scale(0.16847)" stroke-linejoin="round" stroke-linecap="round">
<path d="M290 270L340 380L430 410L490 340L500 400C480 480 520 520 740 535L620 600L600 650L690 710L590 770L560 840L552 900L566 990L590 1040L570 1100L480 1050L380 1080L300 960L330 780L300 560L200 500L270 400Z" fill="url(#gBurst)"/>
<g fill="none" stroke="#22485f" stroke-width="15">
<path d="M290 270L340 380L430 410"/><path d="M500 400C480 480 520 520 740 535L615 600L600 650L690 710C650 725 610 755 580 795"/><path d="M510 820C495 850 495 880 510 930L590 1040L570 1100L480 1050"/>
</g>
<g fill="none" stroke="#2a4a6a" stroke-width="12"><path d="M160 375L260 400L200 500L300 560L280 640L230 690"/><path d="M330 770L300 860L220 940L280 990L290 1100"/><path d="M150 1030L220 940"/></g>
<path d="M580 900L900 570L1060 720L1330 430L1260 375L1530 290L1480 570L1410 500L1060 840L905 690L660 970Z" fill="url(#gArr3z)" stroke="#1f4a5c" stroke-width="14" stroke-linejoin="miter"/>
<g stroke="#22485f">
<path d="M470 180L440 280" stroke-width="14" fill="none"/>
<path d="M725 120L810 215L610 360Z" fill="#c2ebea" stroke-width="13"/>
<path d="M840 385L745 440" stroke-width="20" fill="none"/>
<path d="M720 965L850 1010" stroke-width="13" fill="none"/>
<path d="M690 1075L790 1140C795 1165 775 1175 755 1165Z" fill="#c2ebea" stroke-width="12"/>
<path d="M565 1180L655 1300L575 1330Z" fill="#7898d0" stroke-width="12"/>
</g></g>
<g opacity="1"><path d="M1541.6 427.0V483.0M1528.0 440.6H1584.0" stroke="#2d6078" stroke-width="2.0"/><path d="M1548.8 427.0V483.0M1528.0 447.8H1584.0" stroke="#2d6078" stroke-width="2.0"/><path d="M1556.0 427.0V483.0M1528.0 455.0H1584.0" stroke="#2d6078" stroke-width="2.0"/><path d="M1563.2 427.0V483.0M1528.0 462.2H1584.0" stroke="#2d6078" stroke-width="2.0"/><path d="M1570.4 427.0V483.0M1528.0 469.4H1584.0" stroke="#2d6078" stroke-width="2.0"/><rect x="1536.0" y="435.0" width="40" height="40" rx="3.2" fill="#5a97b2" stroke="#2d6078" stroke-width="2"/><rect x="1541.2" y="440.2" width="29.6" height="29.6" fill="#4a86a6" stroke="#2d6078" stroke-width="1.2" opacity="0.9"/><text x="1556" y="463.6" font-size="24" font-weight="bold" text-anchor="middle" fill="#fff" font-family="Liberation Sans, sans-serif">AI</text></g>
<g opacity="0.85"><path d="M1484.9 479.9V519.1M1475.4 489.4H1514.6" stroke="#3b8288" stroke-width="1.6"/><path d="M1490.0 479.9V519.1M1475.4 494.5H1514.6" stroke="#3b8288" stroke-width="1.6"/><path d="M1495.0 479.9V519.1M1475.4 499.5H1514.6" stroke="#3b8288" stroke-width="1.6"/><path d="M1500.0 479.9V519.1M1475.4 504.5H1514.6" stroke="#3b8288" stroke-width="1.6"/><path d="M1505.1 479.9V519.1M1475.4 509.6H1514.6" stroke="#3b8288" stroke-width="1.6"/><rect x="1481.0" y="485.5" width="28" height="28" rx="2.2" fill="#62aaa8" stroke="#3b8288" stroke-width="2"/><rect x="1484.6" y="489.1" width="20.7" height="20.7" fill="#549c9c" stroke="#3b8288" stroke-width="1.2" opacity="0.9"/><text x="1495" y="504.9" font-size="15" font-weight="bold" text-anchor="middle" fill="#dff" font-family="Liberation Sans, sans-serif">AI</text></g>
<g opacity="1"><path d="M1598.2 470.5V512.5M1588.0 480.7H1630.0" stroke="#8e5874" stroke-width="1.6"/><path d="M1603.6 470.5V512.5M1588.0 486.1H1630.0" stroke="#8e5874" stroke-width="1.6"/><path d="M1609.0 470.5V512.5M1588.0 491.5H1630.0" stroke="#8e5874" stroke-width="1.6"/><path d="M1614.4 470.5V512.5M1588.0 496.9H1630.0" stroke="#8e5874" stroke-width="1.6"/><path d="M1619.8 470.5V512.5M1588.0 502.3H1630.0" stroke="#8e5874" stroke-width="1.6"/><rect x="1594.0" y="476.5" width="30" height="30" rx="2.4" fill="#c08098" stroke="#8e5874" stroke-width="2"/><rect x="1597.9" y="480.4" width="22.2" height="22.2" fill="#b06f8c" stroke="#8e5874" stroke-width="1.2" opacity="0.9"/><text x="1609" y="497.3" font-size="16" font-weight="bold" text-anchor="middle" fill="#fde" font-family="Liberation Sans, sans-serif">AI</text></g>
<g opacity="1"><path d="M1528.5 517.0V603.0M1508.5 537.0H1594.5" stroke="#243a5c" stroke-width="3.2"/><path d="M1540.0 517.0V603.0M1508.5 548.5H1594.5" stroke="#243a5c" stroke-width="3.2"/><path d="M1551.5 517.0V603.0M1508.5 560.0H1594.5" stroke="#243a5c" stroke-width="3.2"/><path d="M1563.0 517.0V603.0M1508.5 571.5H1594.5" stroke="#243a5c" stroke-width="3.2"/><path d="M1574.5 517.0V603.0M1508.5 583.0H1594.5" stroke="#243a5c" stroke-width="3.2"/><rect x="1519.5" y="528.0" width="64" height="64" rx="5.1" fill="#4a78a4" stroke="#243a5c" stroke-width="2.6"/><rect x="1527.8" y="536.3" width="47.4" height="47.4" fill="#2f5a8c" stroke="#243a5c" stroke-width="1.6" opacity="0.9"/><text x="1551.5" y="573.7" font-size="38" font-weight="bold" text-anchor="middle" fill="#fff" font-family="Liberation Sans, sans-serif">AI</text></g>
<path d="M1489 844C1530 838 1545 815 1562 780C1582 735 1592 708 1625 694C1655 683 1690 681 1721 679" fill="none" stroke="url(#gSc)" stroke-width="6.500" stroke-linecap="butt"/>
<path d="M2307 386V484M2307 564V656" stroke="#3a3a4a" stroke-width="2" stroke-dasharray="9 5" fill="none"/>
<circle cx="2307" cy="524" r="37" fill="#1d3b5e"/>
<text x="2283" y="538" font-size="38" font-weight="bold" fill="#fff" font-family="Liberation Sans, sans-serif" stroke="#fff" stroke-width="0.76" stroke-linejoin="round" textLength="48" lengthAdjust="spacingAndGlyphs" >VS</text>
<!-- 43_t3_robots.py -->
<rect x="1926.0" y="418.6" width="52" height="12.2" rx="3.5" fill="#1d3a5c" stroke="#1e2a46" stroke-width="1.5"/><rect x="1929.5" y="407.7" width="45" height="34" rx="8" fill="#dfe8f5" stroke="#1e2a46" stroke-width="2.6"/><rect x="1935.8" y="414.2" width="32.4" height="22.4" rx="8" fill="#1d3a5c"/><ellipse cx="1945.5" cy="424.7" rx="3.6" ry="2.1" fill="#cfe6f5"/><ellipse cx="1958.5" cy="424.7" rx="3.6" ry="2.1" fill="#cfe6f5"/><path d="M1948 431.7H1956" stroke="#cfe6f5" stroke-width="1.6" opacity="0.7"/><path d="M1952 441.7V446.7" stroke="#1e2a46" stroke-width="2.4"/><path d="M1930.5 462.7C1932.5 442.7 1971.5 442.7 1973.5 462.7Z" fill="#6fa6cf" stroke="#1e2a46" stroke-width="2.4" stroke-linejoin="round"/>
<rect x="1990.7" y="397.5" width="52" height="12.2" rx="3.5" fill="#1d3a5c" stroke="#1e2a46" stroke-width="1.5"/><rect x="1994.2" y="386.6" width="45" height="34" rx="8" fill="#dfe8f5" stroke="#1e2a46" stroke-width="2.6"/><rect x="2000.5" y="393.1" width="32.4" height="22.4" rx="8" fill="#1d3a5c"/><ellipse cx="2010.2" cy="403.6" rx="3.6" ry="2.1" fill="#cfe6f5"/><ellipse cx="2023.2" cy="403.6" rx="3.6" ry="2.1" fill="#cfe6f5"/><path d="M2012.7 410.6H2020.7" stroke="#cfe6f5" stroke-width="1.6" opacity="0.7"/><path d="M2016.7 420.6V425.6" stroke="#1e2a46" stroke-width="2.4"/><path d="M1995.2 441.6C1997.2 421.6 2036.2 421.6 2038.2 441.6Z" fill="#6f9fd2" stroke="#1e2a46" stroke-width="2.4" stroke-linejoin="round"/>
<rect x="2063.5" y="382.3" width="55" height="65" rx="7" fill="#cfe0ee" stroke="#1e2a46" stroke-width="2.4"/><rect x="2070.4" y="397.5" width="41.1" height="10.9" rx="3" fill="#1d3a5c"/><rect x="2073.4" y="389.3" width="35.1" height="27.2" rx="9" fill="#1d3a5c" stroke="#1e2a46" stroke-width="2"/><rect x="2076.4" y="392.3" width="29.1" height="21.2" rx="7" fill="none" stroke="#8fd0d8" stroke-width="1.4" opacity="0.7"/><ellipse cx="2085" cy="401.5" rx="3.2" ry="2" fill="#cfe6f5"/><ellipse cx="2097" cy="401.5" rx="3.2" ry="2" fill="#cfe6f5"/><path d="M2073.4 436.5C2073.4 418.5 2108.6 418.5 2108.6 436.5Z" fill="#7b9fd4" stroke="#1e2a46" stroke-width="2"/>
<rect x="2133.5" y="414.2" width="52" height="12.2" rx="3.5" fill="#1d3a5c" stroke="#1e2a46" stroke-width="1.5"/><rect x="2137.0" y="403.3" width="45" height="34" rx="8" fill="#dfe8f5" stroke="#1e2a46" stroke-width="2.6"/><rect x="2143.3" y="409.8" width="32.4" height="22.4" rx="8" fill="#1d3a5c"/><ellipse cx="2153.0" cy="420.3" rx="3.6" ry="2.1" fill="#cfe6f5"/><ellipse cx="2166.0" cy="420.3" rx="3.6" ry="2.1" fill="#cfe6f5"/><path d="M2155.5 427.3H2163.5" stroke="#cfe6f5" stroke-width="1.6" opacity="0.7"/><path d="M2159.5 437.3V442.3" stroke="#1e2a46" stroke-width="2.4"/><path d="M2138.0 458.3C2140.0 438.3 2179.0 438.3 2181.0 458.3Z" fill="#6f9fd2" stroke="#1e2a46" stroke-width="2.4" stroke-linejoin="round"/>
<rect x="1895.0" y="493.9" width="52" height="12.2" rx="3.5" fill="#1d3a5c" stroke="#1e2a46" stroke-width="1.5"/><rect x="1898.5" y="483.0" width="45" height="34" rx="8" fill="#dfe8f5" stroke="#1e2a46" stroke-width="2.6"/><rect x="1904.8" y="489.5" width="32.4" height="22.4" rx="8" fill="#1d3a5c"/><ellipse cx="1914.5" cy="500.0" rx="3.6" ry="2.1" fill="#cfe6f5"/><ellipse cx="1927.5" cy="500.0" rx="3.6" ry="2.1" fill="#cfe6f5"/><path d="M1917 507.0H1925" stroke="#cfe6f5" stroke-width="1.6" opacity="0.7"/><path d="M1921 517V522" stroke="#1e2a46" stroke-width="2.4"/><path d="M1899.5 538.0C1901.5 518.0 1940.5 518.0 1942.5 538.0Z" fill="#6fa8d4" stroke="#1e2a46" stroke-width="2.4" stroke-linejoin="round"/>
<rect x="1956.5" y="485.9" width="52" height="12.2" rx="3.5" fill="#1d3a5c" stroke="#1e2a46" stroke-width="1.5"/><rect x="1960.0" y="475.0" width="45" height="34" rx="8" fill="#dfe8f5" stroke="#1e2a46" stroke-width="2.6"/><rect x="1966.3" y="481.5" width="32.4" height="22.4" rx="8" fill="#1d3a5c"/><ellipse cx="1976.0" cy="492.0" rx="3.6" ry="2.1" fill="#cfe6f5"/><ellipse cx="1989.0" cy="492.0" rx="3.6" ry="2.1" fill="#cfe6f5"/><path d="M1978.5 499.0H1986.5" stroke="#cfe6f5" stroke-width="1.6" opacity="0.7"/><path d="M1982.5 509V514" stroke="#1e2a46" stroke-width="2.4"/><path d="M1961.0 530.0C1963.0 510.0 2002.0 510.0 2004.0 530.0Z" fill="#8b90cc" stroke="#1e2a46" stroke-width="2.4" stroke-linejoin="round"/>
<rect x="2107.0" y="483.4" width="52" height="12.2" rx="3.5" fill="#1d3a5c" stroke="#1e2a46" stroke-width="1.5"/><rect x="2110.5" y="472.5" width="45" height="34" rx="8" fill="#dfe8f5" stroke="#1e2a46" stroke-width="2.6"/><rect x="2116.8" y="479.0" width="32.4" height="22.4" rx="8" fill="#1d3a5c"/><ellipse cx="2126.5" cy="489.5" rx="3.6" ry="2.1" fill="#cfe6f5"/><ellipse cx="2139.5" cy="489.5" rx="3.6" ry="2.1" fill="#cfe6f5"/><path d="M2129 496.5H2137" stroke="#cfe6f5" stroke-width="1.6" opacity="0.7"/><path d="M2133 506.5V511.5" stroke="#1e2a46" stroke-width="2.4"/><path d="M2111.5 527.5C2113.5 507.5 2152.5 507.5 2154.5 527.5Z" fill="#8a98c8" stroke="#1e2a46" stroke-width="2.4" stroke-linejoin="round"/>
<rect x="2164.5" y="489.5" width="52" height="12.2" rx="3.5" fill="#1d3a5c" stroke="#1e2a46" stroke-width="1.5"/><rect x="2168.0" y="478.6" width="45" height="34" rx="8" fill="#dfe8f5" stroke="#1e2a46" stroke-width="2.6"/><rect x="2174.3" y="485.1" width="32.4" height="22.4" rx="8" fill="#1d3a5c"/><ellipse cx="2184.0" cy="495.6" rx="3.6" ry="2.1" fill="#cfe6f5"/><ellipse cx="2197.0" cy="495.6" rx="3.6" ry="2.1" fill="#cfe6f5"/><path d="M2186.5 502.6H2194.5" stroke="#cfe6f5" stroke-width="1.6" opacity="0.7"/><path d="M2190.5 512.6V517.6" stroke="#1e2a46" stroke-width="2.4"/><path d="M2169.0 533.6C2171.0 513.6 2210.0 513.6 2212.0 533.6Z" fill="#7f9fd6" stroke="#1e2a46" stroke-width="2.4" stroke-linejoin="round"/>
<rect x="1926.0" y="567.5" width="52" height="12.2" rx="3.5" fill="#1d3a5c" stroke="#1e2a46" stroke-width="1.5"/><rect x="1929.5" y="556.6" width="45" height="34" rx="8" fill="#dfe8f5" stroke="#1e2a46" stroke-width="2.6"/><rect x="1935.8" y="563.1" width="32.4" height="22.4" rx="8" fill="#1d3a5c"/><ellipse cx="1945.5" cy="573.6" rx="3.6" ry="2.1" fill="#cfe6f5"/><ellipse cx="1958.5" cy="573.6" rx="3.6" ry="2.1" fill="#cfe6f5"/><path d="M1948 580.6H1956" stroke="#cfe6f5" stroke-width="1.6" opacity="0.7"/><path d="M1952 590.6V595.6" stroke="#1e2a46" stroke-width="2.4"/><path d="M1930.5 611.6C1932.5 591.6 1971.5 591.6 1973.5 611.6Z" fill="#8a8fd2" stroke="#1e2a46" stroke-width="2.4" stroke-linejoin="round"/>
<rect x="1990.5" y="552.2" width="55" height="65" rx="7" fill="#cfe0ee" stroke="#1e2a46" stroke-width="2.4"/><rect x="1997.5" y="567.4" width="41.1" height="10.9" rx="3" fill="#1d3a5c"/><rect x="2000.5" y="559.2" width="35.1" height="27.2" rx="9" fill="#1d3a5c" stroke="#1e2a46" stroke-width="2"/><rect x="2003.5" y="562.2" width="29.1" height="21.2" rx="7" fill="none" stroke="#8fd0d8" stroke-width="1.4" opacity="0.7"/><ellipse cx="2012" cy="571.4" rx="3.2" ry="2" fill="#cfe6f5"/><ellipse cx="2024" cy="571.4" rx="3.2" ry="2" fill="#cfe6f5"/><path d="M2000.5 606.4C2000.5 588.4 2035.5 588.4 2035.5 606.4Z" fill="#7b9fd4" stroke="#1e2a46" stroke-width="2"/>
<rect x="2063.0" y="566.6" width="52" height="12.2" rx="3.5" fill="#1d3a5c" stroke="#1e2a46" stroke-width="1.5"/><rect x="2066.5" y="555.7" width="45" height="34" rx="8" fill="#dfe8f5" stroke="#1e2a46" stroke-width="2.6"/><rect x="2072.8" y="562.2" width="32.4" height="22.4" rx="8" fill="#1d3a5c"/><ellipse cx="2082.5" cy="572.7" rx="3.6" ry="2.1" fill="#cfe6f5"/><ellipse cx="2095.5" cy="572.7" rx="3.6" ry="2.1" fill="#cfe6f5"/><path d="M2085 579.7H2093" stroke="#cfe6f5" stroke-width="1.6" opacity="0.7"/><path d="M2089 589.7V594.7" stroke="#1e2a46" stroke-width="2.4"/><path d="M2067.5 610.7C2069.5 590.7 2108.5 590.7 2110.5 610.7Z" fill="#6f98d6" stroke="#1e2a46" stroke-width="2.4" stroke-linejoin="round"/>
<rect x="2133.5" y="563.1" width="52" height="12.2" rx="3.5" fill="#1d3a5c" stroke="#1e2a46" stroke-width="1.5"/><rect x="2137.0" y="552.2" width="45" height="34" rx="8" fill="#dfe8f5" stroke="#1e2a46" stroke-width="2.6"/><rect x="2143.3" y="558.7" width="32.4" height="22.4" rx="8" fill="#1d3a5c"/><ellipse cx="2153.0" cy="569.2" rx="3.6" ry="2.1" fill="#cfe6f5"/><ellipse cx="2166.0" cy="569.2" rx="3.6" ry="2.1" fill="#cfe6f5"/><path d="M2155.5 576.2H2163.5" stroke="#cfe6f5" stroke-width="1.6" opacity="0.7"/><path d="M2159.5 586.2V591.2" stroke="#1e2a46" stroke-width="2.4"/><path d="M2138.0 607.2C2140.0 587.2 2179.0 587.2 2181.0 607.2Z" fill="#7596cf" stroke="#1e2a46" stroke-width="2.4" stroke-linejoin="round"/>
<rect x="2022" y="457.6" width="74.4" height="81.4" rx="11" fill="#c5e2e6" stroke="#1e2a46" stroke-width="2.6"/>
<path d="M2059 470V478" stroke="#1e2a46" stroke-width="2.4"/><circle cx="2059" cy="467" r="3.4" fill="#2f5a6a" stroke="#1e2a46" stroke-width="1.2"/>
<rect x="2031.5" y="486" width="55" height="14" rx="6" fill="#1f4a5a" stroke="#1e2a46" stroke-width="1.5"/>
<rect x="2036" y="476" width="46" height="32" rx="11" fill="#3f9a90" stroke="#1e2a46" stroke-width="2.6"/>
<rect x="2041.500" y="481" width="35" height="22" rx="8" fill="#173a52"/>
<ellipse cx="2052.500" cy="490.5" rx="3.6" ry="2.1" fill="#d8ecf5"/><ellipse cx="2065.500" cy="490.5" rx="3.6" ry="2.1" fill="#d8ecf5"/><path d="M2055 497H2063" stroke="#d8ecf5" stroke-width="1.6" opacity="0.7"/>
<path d="M2059 508V513" stroke="#1e2a46" stroke-width="2.4"/>
<path d="M2039 529C2040 509 2078 509 2079 529Z" fill="#3fa58c" stroke="#1e2a46" stroke-width="2.4" stroke-linejoin="round"/>
<!-- 44_t3_ent.py -->
<defs><marker id="ah" viewBox="0 0 10 10" refX="7" refY="5" markerWidth="3.7" markerHeight="3.7" orient="auto-start-reverse"><path d="M0 0L10 5L0 10Z" fill="#23253a"/></marker><marker id="ahl" viewBox="0 0 10 10" refX="7" refY="5" markerWidth="5" markerHeight="5" orient="auto-start-reverse"><path d="M0 1L10 5L0 9Z" fill="#7e9fb2"/></marker><marker id="ahm" viewBox="0 0 10 10" refX="7" refY="5" markerWidth="5" markerHeight="5" orient="auto-start-reverse"><path d="M0 0L10 5L0 10Z" fill="#3b4868"/></marker></defs>
<g fill="none" stroke="#6d7d9c" stroke-width="1.5">
<path d="M2456.400 491.900H2501V464.600L2538 426.400"/>
<path d="M2465.500 532.800H2501.900V559"/>
<path d="M2649 473.700V491H2694.700"/>
</g>
<path d="M2493.700 409H2527" stroke="#7e9fb2" stroke-width="2" marker-end="url(#ahl)" fill="none"/>
<path d="M2654.700 409H2624" stroke="#7e9fb2" stroke-width="2" marker-end="url(#ahl)" fill="none"/>
<path d="M2479 602H2575.500V565" stroke="#3b4868" stroke-width="2" marker-end="url(#ahm)" fill="none"/>
<path d="M2482 436L2531.5 474" stroke="#23253a" stroke-width="2.6" marker-start="url(#ah)" marker-end="url(#ah)" fill="none"/>
<path d="M2575.5 435L2575.5 461.5" stroke="#23253a" stroke-width="2.6" marker-start="url(#ah)" marker-end="url(#ah)" fill="none"/>
<path d="M2677 428.5L2617.5 473.5" stroke="#23253a" stroke-width="2.6" marker-start="url(#ah)" marker-end="url(#ah)" fill="none"/>
<path d="M2445 511.9L2520.5 511.9" stroke="#23253a" stroke-width="2.6" marker-start="url(#ah)" marker-end="url(#ah)" fill="none"/>
<path d="M2627.7 511.9L2683.4 511.9" stroke="#23253a" stroke-width="2.6" marker-start="url(#ah)" marker-end="url(#ah)" fill="none"/>
<path d="M2482 584.5L2531.5 551.2" stroke="#23253a" stroke-width="2.6" marker-start="url(#ah)" marker-end="url(#ah)" fill="none"/>
<path d="M2617.5 551.2L2677 591.7" stroke="#23253a" stroke-width="2.6" marker-start="url(#ah)" marker-end="url(#ah)" fill="none"/>
<path d="M2553.5 469.79999999999995V555.8M2532.5 490.79999999999995H2618.5" stroke="#23253a" stroke-width="3"/>
<path d="M2564.5 469.79999999999995V555.8M2532.5 501.79999999999995H2618.5" stroke="#23253a" stroke-width="3"/>
<path d="M2575.5 469.79999999999995V555.8M2532.5 512.8H2618.5" stroke="#23253a" stroke-width="3"/>
<path d="M2586.5 469.79999999999995V555.8M2532.5 523.8H2618.5" stroke="#23253a" stroke-width="3"/>
<path d="M2597.5 469.79999999999995V555.8M2532.5 534.8H2618.5" stroke="#23253a" stroke-width="3"/>
<rect x="2543.5" y="480.79999999999995" width="64" height="64" rx="4" fill="#4f6fa4" stroke="#1d2740" stroke-width="2.6"/>
<rect x="2552.0" y="489.29999999999995" width="47" height="47" fill="#3f5f9a" stroke="#1d2740" stroke-width="2"/>
<text x="2559.5" y="525.8" font-size="38" font-weight="bold" fill="#fff" font-family="Liberation Sans, sans-serif" textLength="31.0" lengthAdjust="spacingAndGlyphs" >AI</text>
<path d="M2552 424.600C2536 424.600 2534 404 2549 401C2549 388 2566 380 2577 386C2588 376 2606 384 2603 400C2616 402 2614 424.600 2600 424.600Z" fill="#6f9fd0" stroke="#1d2740" stroke-width="2.8" stroke-linejoin="round"/>
<path d="M2435.5 424.6L2468.5 424.6" stroke="#1d2740" stroke-width="2.2"/>
<circle cx="2468.5" cy="424.6" r="4.800" fill="#7fa6c4" stroke="#1d2740" stroke-width="2"/>
<path d="M2435.5 424.6L2457.4 446.5" stroke="#1d2740" stroke-width="2.2"/>
<circle cx="2457.4" cy="446.5" r="4.800" fill="#7fa6c4" stroke="#1d2740" stroke-width="2"/>
<path d="M2435.5 424.6L2435.5 457.6" stroke="#1d2740" stroke-width="2.2"/>
<circle cx="2435.5" cy="457.6" r="4.800" fill="#7fa6c4" stroke="#1d2740" stroke-width="2"/>
<path d="M2435.5 424.6L2413.6 446.5" stroke="#1d2740" stroke-width="2.2"/>
<circle cx="2413.6" cy="446.5" r="4.800" fill="#7fa6c4" stroke="#1d2740" stroke-width="2"/>
<path d="M2435.5 424.6L2402.5 424.6" stroke="#1d2740" stroke-width="2.2"/>
<circle cx="2402.5" cy="424.6" r="4.800" fill="#7fa6c4" stroke="#1d2740" stroke-width="2"/>
<path d="M2435.5 424.6L2413.6 402.7" stroke="#1d2740" stroke-width="2.2"/>
<circle cx="2413.6" cy="402.7" r="4.800" fill="#7fa6c4" stroke="#1d2740" stroke-width="2"/>
<path d="M2435.5 424.6L2435.5 391.6" stroke="#1d2740" stroke-width="2.2"/>
<circle cx="2435.5" cy="391.6" r="4.800" fill="#7fa6c4" stroke="#1d2740" stroke-width="2"/>
<path d="M2435.5 424.6L2457.4 402.7" stroke="#1d2740" stroke-width="2.2"/>
<circle cx="2457.4" cy="402.7" r="4.800" fill="#7fa6c4" stroke="#1d2740" stroke-width="2"/>
<circle cx="2435.5" cy="424.6" r="17" fill="#5f9ab8" stroke="#1d2740" stroke-width="2.4"/>
<circle cx="2435.5" cy="424.6" r="12" fill="#4a8aa6" stroke="#bfe0ea" stroke-width="1.2"/>
<rect x="2431.0" y="416.6" width="9" height="16" rx="2" fill="#bfe0ea" opacity="0.85"/>
<path d="M2391 523.3V533.0A21.8 7.0 0 0 0 2434.6 533.0V523.3Z" fill="#8a82c4" stroke="#1d2740" stroke-width="2.4" stroke-linejoin="round"/><path d="M2391 506.6V516.3A21.8 7.0 0 0 0 2434.6 516.3V506.6Z" fill="#6a8fc4" stroke="#1d2740" stroke-width="2.4" stroke-linejoin="round"/><path d="M2391 490.0V499.7A21.8 7.0 0 0 0 2434.6 499.7V490.0Z" fill="#5fa6be" stroke="#1d2740" stroke-width="2.4" stroke-linejoin="round"/><ellipse cx="2412.8" cy="490.0" rx="21.8" ry="7.0" fill="#5fa6be" stroke="#1d2740" stroke-width="2.4"/>
<path d="M2411 603.2V613.0A23.5 7.5 0 0 0 2458 613.0V603.2Z" fill="#8a82c4" stroke="#1d2740" stroke-width="2.4" stroke-linejoin="round"/><path d="M2411 585.9V595.7A23.5 7.5 0 0 0 2458 595.7V585.9Z" fill="#7f8cc0" stroke="#1d2740" stroke-width="2.4" stroke-linejoin="round"/><path d="M2411 568.5V578.3A23.5 7.5 0 0 0 2458 578.3V568.5Z" fill="#8f9cc8" stroke="#1d2740" stroke-width="2.4" stroke-linejoin="round"/><ellipse cx="2434.5" cy="568.5" rx="23.5" ry="7.5" fill="#8f9cc8" stroke="#1d2740" stroke-width="2.4"/>
<path d="M2469.6 602.4L2474.2 602.7L2474.2 608.5L2469.6 608.8L2468.4 611.5L2471.5 615.0L2467.4 619.1L2463.9 616.0L2461.2 617.2L2460.9 621.8L2455.1 621.8L2454.8 617.2L2452.1 616.0L2448.6 619.1L2444.5 615.0L2447.6 611.5L2446.4 608.8L2441.8 608.5L2441.8 602.7L2446.4 602.4L2447.6 599.7L2444.5 596.2L2448.6 592.1L2452.1 595.2L2454.8 594.0L2455.1 589.4L2460.9 589.4L2461.2 594.0L2463.9 595.2L2467.4 592.1L2471.5 596.2L2468.4 599.7Z" fill="#6f9fd0" stroke="#1d2740" stroke-width="2.2" stroke-linejoin="round"/><circle cx="2458" cy="605.6" r="5.5" fill="#bfe0f0" stroke="#1d2740" stroke-width="2.2"/>
<rect x="2688" y="396.400" width="56.700" height="46.400" rx="4" fill="#c9d9ec" stroke="#1d2740" stroke-width="2.6"/>
<path d="M2688 407.500H2744.700" stroke="#1d2740" stroke-width="2"/><rect x="2689.300" y="397.700" width="54" height="9" fill="#7f9fcc"/>
<circle cx="2694" cy="402.300" r="1.500" fill="#1d2740"/><circle cx="2699" cy="402.300" r="1.500" fill="#1d2740"/><circle cx="2704" cy="402.300" r="1.500" fill="#1d2740"/>
<path d="M2707 417H2727V424H2709V431H2729V437H2707" fill="#7f9fcc" stroke="#3a5a8a" stroke-width="1.8"/>
<circle cx="2726.5" cy="515" r="25" fill="none" stroke="#1d2740" stroke-width="2"/>
<path d="M2726.5 508V520L2717.5 526M2726.5 520L2735.5 526" stroke="#1d2740" stroke-width="2.2" fill="none"/>
<rect x="2716" y="527" width="21" height="16" fill="#e3e3e6"/>
<path d="M2715.4 497.1C2715.4 482.6 2737.6 482.6 2737.6 497.1Z" fill="#5f9fb8" stroke="#1d2740" stroke-width="2.2" stroke-linejoin="round"/><circle cx="2726.5" cy="477.5" r="7.2" fill="#5f9fb8" stroke="#1d2740" stroke-width="2.2"/>
<path d="M2690.9 538.5C2690.9 524.1 2713.1 524.1 2713.1 538.5Z" fill="#5f9fb8" stroke="#1d2740" stroke-width="2.2" stroke-linejoin="round"/><circle cx="2702" cy="519" r="7.2" fill="#5f9fb8" stroke="#1d2740" stroke-width="2.2"/>
<path d="M2739.9 538.5C2739.9 524.1 2762.1 524.1 2762.1 538.5Z" fill="#5f9fb8" stroke="#1d2740" stroke-width="2.2" stroke-linejoin="round"/><circle cx="2751" cy="519" r="7.2" fill="#5f9fb8" stroke="#1d2740" stroke-width="2.2"/>
<circle cx="2718" cy="593" r="24" fill="none" stroke="#1d2740" stroke-width="2"/>
<rect x="2707" y="607" width="22" height="14" fill="#e3e3e6"/>
<path d="M2712 613H2724" stroke="#1d2740" stroke-width="2"/>
<path d="M2708.9 581.1C2708.9 569.2 2727.1 569.2 2727.1 581.1Z" fill="#5f8fc8" stroke="#1d2740" stroke-width="2.2" stroke-linejoin="round"/><circle cx="2718" cy="565" r="6.0" fill="#5f8fc8" stroke="#1d2740" stroke-width="2.2"/>
<circle cx="2718" cy="592" r="9" fill="#5f9fb8" stroke="#1d2740" stroke-width="1.8"/><path d="M2709 592H2727M2718 583V601M2712 587H2724M2712 597H2724" stroke="#1d2740" stroke-width="1.2"/>
<path d="M2688.9 620.1C2688.9 608.2 2707.1 608.2 2707.1 620.1Z" fill="#5f8fc8" stroke="#1d2740" stroke-width="2.2" stroke-linejoin="round"/><circle cx="2698" cy="604" r="6.0" fill="#5f8fc8" stroke="#1d2740" stroke-width="2.2"/>
<path d="M2728.9 620.1C2728.9 608.2 2747.1 608.2 2747.1 620.1Z" fill="#5f8fc8" stroke="#1d2740" stroke-width="2.2" stroke-linejoin="round"/><circle cx="2738" cy="604" r="6.0" fill="#5f8fc8" stroke="#1d2740" stroke-width="2.2"/>
<!-- 45_t4_meeting.py -->
<g transform="translate(30,1010) scale(0.26285)">
<ellipse cx="840" cy="1338" rx="800" ry="88" fill="#a9b3c6"/>
<rect x="228" y="62" width="300" height="420" fill="#dedcec"/><rect x="245" y="85" width="270" height="32" fill="#bebdd0"/>
<circle cx="375" cy="265" r="68" fill="none" stroke="#aab5c6" stroke-width="38"/><path d="M375 197A68 68 0 0 1 441 250" fill="none" stroke="#c5cbd8" stroke-width="38"/>
<rect x="282" y="392" width="150" height="13" fill="#cbcadc"/>
<rect x="282" y="420" width="128" height="13" fill="#cbcadc"/>
<rect x="282" y="448" width="150" height="13" fill="#cbcadc"/>
<rect x="556" y="22" width="590" height="460" fill="#e1dfef"/><rect x="566" y="40" width="555" height="42" fill="#bebdd0"/>
<rect x="590" y="125" width="350" height="14" fill="#cbcadc"/>
<rect x="590" y="176" width="270" height="14" fill="#cbcadc"/>
<rect x="590" y="216" width="160" height="14" fill="#cbcadc"/>
<rect x="590" y="258" width="130" height="14" fill="#cbcadc"/>
<rect x="590" y="300" width="120" height="14" fill="#cbcadc"/>
<rect x="590" y="340" width="112" height="14" fill="#cbcadc"/>
<rect x="590" y="380" width="112" height="14" fill="#cbcadc"/>
<rect x="590" y="410" width="130" height="14" fill="#cbcadc"/>
<rect x="920" y="235" width="40" height="235" fill="#b8c2d0"/>
<rect x="982" y="185" width="45" height="285" fill="#b8c2d0"/>
<rect x="1045" y="120" width="50" height="350" fill="#b8c2d0"/>
<rect x="1150" y="62" width="310" height="420" fill="#dedcec"/><rect x="1165" y="85" width="275" height="32" fill="#bebdd0"/><rect x="1195" y="150" width="200" height="12" fill="#cbcadc"/>
<rect x="1255" y="290" width="34" height="180" fill="#b8c2d0"/>
<rect x="1300" y="262" width="34" height="208" fill="#b8c2d0"/>
<rect x="1345" y="236" width="34" height="234" fill="#b8c2d0"/>
<rect x="1390" y="180" width="34" height="290" fill="#b8c2d0"/>
<path d="M542 1090L540 1195L586 1215L588 1200L566 1185L572 1090Z" fill="#3d5c7c"/>
<path d="M440 405C432 345 468 326 500 330C540 334 556 368 551 410L556 462L600 560L622 600L600 645L586 705L592 800L434 800L430 662L410 640C404 540 410 492 432 470Z" fill="#3d5c7c"/>
<path d="M535 640L610 545L655 552L600 650Z" fill="#9fb8d2"/>
<path d="M500 470L530 540L548 500L530 465Z" fill="#c9d4e4" opacity="0.7"/>
<ellipse cx="1170" cy="372" rx="50" ry="62" fill="#3a5878"/>
<path d="M1075 492L1142 448L1200 448L1272 492C1286 560 1282 620 1266 660L1250 835L1096 835L1086 662L1040 612C1040 560 1055 522 1075 492Z" fill="#3a5878"/>
<path d="M1140 452L1152 520L1168 452Z" fill="#d5deea" opacity="0.7"/><path d="M1148 462L1158 462L1160 505L1152 515L1146 505Z" fill="#22405e"/>
<ellipse cx="826" cy="345" rx="50" ry="66" fill="#0f2947"/><path d="M778 330C776 285 800 270 830 270C862 270 880 290 876 335Z" fill="#0f2947"/>
<path d="M700 452L792 412L860 412L952 452C976 520 986 580 986 630L940 672L926 805L736 805L726 662L674 622C670 560 680 502 700 452Z" fill="#0f2947"/>
<path d="M796 416L826 525L856 416Z" fill="#eef2f8"/>
<path d="M818 428L834 428L840 520L826 545L812 520Z" fill="#0f2947"/>
<path d="M846 556L948 550L916 660L804 667Z" fill="#8fb0d2"/><path d="M860 570L930 566L906 640L826 645Z" fill="#b5cde4"/>
<path d="M905 620L985 600L986 630L940 672L900 660Z" fill="#0f2947"/>
<path d="M62 716Q70 690 110 688L186 688L226 1060L162 1086Q140 1080 135 1060Z" fill="#1f3f60"/>
<path d="M110 700L180 700L212 1050L190 1050Z" fill="#35587c" opacity="0.6"/>
<rect x="150" y="1058" width="300" height="44" rx="10" fill="#0f2947"/>
<rect x="304" y="1100" width="30" height="190" fill="#0f2947"/>
<path d="M319 1255L185 1300M319 1255L319 1325M319 1255L450 1292" stroke="#0f2947" stroke-width="20" stroke-linecap="round" fill="none"/>
<circle cx="185" cy="1310" r="14" fill="#0f2947"/>
<circle cx="319" cy="1322" r="14" fill="#0f2947"/>
<circle cx="450" cy="1300" r="14" fill="#0f2947"/>
<path d="M1624 716Q1616 690 1576 688L1500 688L1460 1060L1524 1086Q1546 1080 1551 1060Z" fill="#1f3f60"/>
<path d="M1576 700L1506 700L1474 1050L1496 1050Z" fill="#35587c" opacity="0.6"/>
<rect x="1236" y="1058" width="300" height="44" rx="10" fill="#0f2947"/>
<rect x="1352" y="1100" width="30" height="190" fill="#0f2947"/>
<path d="M1367 1255L1240 1292M1367 1255L1367 1325M1367 1255L1502 1300" stroke="#0f2947" stroke-width="20" stroke-linecap="round" fill="none"/>
<circle cx="1240" cy="1300" r="14" fill="#0f2947"/>
<circle cx="1367" cy="1322" r="14" fill="#0f2947"/>
<circle cx="1502" cy="1310" r="14" fill="#0f2947"/>
<ellipse cx="288" cy="565" rx="62" ry="70" fill="#0f2947"/><path d="M340 560L356 585L340 600Z" fill="#0f2947"/>
<path d="M236 640L300 648L352 722L402 790L482 820L582 815L586 852L482 872L404 882L420 1000L542 1000L562 1052L556 1290L590 1318L440 1332L446 1092L210 1092L184 702Z" fill="#0f2947"/>
<path d="M262 640L300 660L330 720L316 690Z" fill="#dfe6f0" opacity="0.8"/>
<ellipse cx="1440" cy="575" rx="62" ry="70" fill="#0f2947"/><path d="M1388 570L1368 598L1388 612Z" fill="#0f2947"/>
<path d="M1492 650L1430 655L1380 730L1340 800L1240 832L1170 840L1165 872L1250 886L1330 900L1330 1000L1180 1000L1150 1052L1090 1282L1110 1332L1242 1322L1252 1092L1500 1092L1532 720Z" fill="#0f2947"/>
<path d="M315 942L700 810L1000 810L1360 942Z" fill="#6787a8"/><path d="M560 880L700 810L1000 810L1130 880Z" fill="#7d9cba" opacity="0.6"/>
<rect x="315" y="940" width="1045" height="52" fill="#3f5f86"/>
<rect x="600" y="990" width="480" height="362" fill="#2d4d6e"/><rect x="600" y="990" width="480" height="40" fill="#27456a"/>
<path d="M440 912L520 885L642 885L612 916Z" fill="#eef2f9"/>
<path d="M585 852L622 830L702 830L680 856Z" fill="#eef2f9"/>
<path d="M968 852L990 832L1100 835L1132 856Z" fill="#eef2f9"/>
<path d="M1020 890L1062 880L1200 890L1232 916L1062 916Z" fill="#eef2f9"/>
<path d="M380 770L402 790L482 820L582 815L586 852L482 872L404 882L380 880Z" fill="#0f2947"/>
<path d="M1360 780L1340 800L1240 832L1170 840L1165 872L1250 886L1330 900L1360 900Z" fill="#0f2947"/>
</g>
<!-- 46_t4_icons.py -->
<g transform="translate(980,1005) scale(0.13666)" stroke-linejoin="round">
<path d="M300 680C332 640 342 560 336 420C330 250 400 100 590 95C760 95 812 250 816 400C816 540 822 640 862 680C800 702 720 690 690 640L470 640C440 692 360 702 300 680Z" fill="#554b7e" stroke="#1b1542" stroke-width="15"/>
<path d="M500 265C560 322 680 372 746 386C752 520 690 642 580 642C470 642 400 500 405 380C442 360 482 320 500 265Z" fill="#a69dcd" stroke="#1b1542" stroke-width="13"/>
<path d="M1730 400C1720 250 1790 90 1950 85C2110 85 2190 250 2170 400C2202 400 2202 482 2160 492C2140 602 2070 716 1950 716C1830 716 1760 602 1740 492C1698 482 1698 400 1730 400Z" fill="#554b7e" stroke="#1b1542" stroke-width="15"/>
<path d="M1800 290C1880 302 2000 292 2050 250C2092 262 2112 302 2116 400C2120 480 2100 560 2050 592C2000 550 1900 550 1850 592C1790 560 1770 480 1775 400C1775 350 1785 310 1800 290Z" fill="#a69dcd" stroke="#1b1542" stroke-width="11"/>
<ellipse cx="1950" cy="625" rx="42" ry="22" fill="#cfc7ec" stroke="#1b1542" stroke-width="9"/>
</g>
<!-- 47_t5_factory.py -->
<defs><pattern id="dots" width="22" height="22" patternUnits="userSpaceOnUse"><rect x="3" y="3" width="8" height="8" fill="#6fd6c8" opacity="0.36"/><rect x="14" y="14" width="6" height="6" fill="#6fd6c8" opacity="0.22"/></pattern><marker id="ahw" viewBox="0 0 10 10" refX="8" refY="5" markerWidth="4" markerHeight="4" orient="auto"><path d="M0 0L10 5L0 10Z" fill="#dff6f4"/></marker></defs>
<g transform="translate(1430,1010) scale(0.24938)" fill="none" stroke-linejoin="miter">
<path d="M160 1385L185 730L490 720L795 560L805 720L1100 560L1105 720L1400 560L1405 720L1455 720L1455 1385Z" fill="url(#dots)" stroke="none"/>
<path d="M430 420V700" stroke="#8fd8e0" stroke-width="7" stroke-dasharray="10 12" opacity="0.25"/>
<path d="M490 400V690" stroke="#8fd8e0" stroke-width="7" stroke-dasharray="10 12" opacity="0.3"/>
<path d="M570 330V700" stroke="#8fd8e0" stroke-width="7" stroke-dasharray="10 12" opacity="0.35"/>
<path d="M635 320V560" stroke="#8fd8e0" stroke-width="7" stroke-dasharray="10 12" opacity="0.4"/>
<path d="M715 380V700" stroke="#8fd8e0" stroke-width="7" stroke-dasharray="10 12" opacity="0.25"/>
<path d="M880 420V540" stroke="#8fd8e0" stroke-width="7" stroke-dasharray="10 12" opacity="0.2"/>
<path d="M1030 620V1000" stroke="#8fd8e0" stroke-width="7" stroke-dasharray="10 12" opacity="0.2"/>
<path d="M1400 720V1000" stroke="#8fd8e0" stroke-width="7" stroke-dasharray="10 12" opacity="0.2"/>
<path d="M250 640V1300" stroke="#8fd8e0" stroke-width="7" stroke-dasharray="10 12" opacity="0.25"/>
<path d="M1190 410V715" stroke="#e6f6f6" stroke-width="5" marker-end="url(#ahw)"/>
<path d="M65 1390H1530" stroke="#e6f6f6" stroke-width="14"/>
<path d="M150 1390L188 330H305L335 715H490L795 550L805 715L1100 550L1105 715L1400 550L1405 715H1460" stroke="#e6f6f6" stroke-width="13"/>
<path d="M1460 1390V470H1575" stroke="#e6f6f6" stroke-width="11" marker-end="url(#ahw)"/>
<path d="M182 432H312" stroke="#e6f6f6" stroke-width="11"/>
<path d="M192 340H300L306 428H186Z" fill="#1a4a5a" stroke="none" opacity="0.55"/>
<path d="M215 292C212 205 262 162 345 160C362 108 450 90 490 132C532 58 682 60 702 160C762 150 790 212 740 216L330 220C292 224 275 250 275 292" stroke="#e6f6f6" stroke-width="12" stroke-linecap="round"/>
<rect x="340" y="845" width="114" height="96" stroke="#e6f6f6" stroke-width="12" fill="#1d4a5c" fill-opacity="0.5"/>
<rect x="528" y="845" width="114" height="96" stroke="#e6f6f6" stroke-width="12" fill="#1d4a5c" fill-opacity="0.5"/>
<rect x="715" y="845" width="114" height="96" stroke="#e6f6f6" stroke-width="12" fill="#1d4a5c" fill-opacity="0.5"/>
<rect x="900" y="845" width="114" height="96" stroke="#e6f6f6" stroke-width="12" fill="#1d4a5c" fill-opacity="0.5"/>
<path d="M712 1390V1015H1015V1390" stroke="#e6f6f6" stroke-width="13" fill="#1d5a5c" fill-opacity="0.55"/>
<path d="M760 1075H825" stroke="#86e2dc" stroke-width="10"/>
<path d="M795 1115H920" stroke="#86e2dc" stroke-width="10"/>
<path d="M760 1155H850" stroke="#86e2dc" stroke-width="10"/>
<path d="M870 1155H965" stroke="#86e2dc" stroke-width="10"/>
<path d="M800 1195H915" stroke="#86e2dc" stroke-width="10"/>
<path d="M760 1235H855" stroke="#86e2dc" stroke-width="10"/>
<path d="M875 1235H965" stroke="#86e2dc" stroke-width="10"/>
<path d="M800 1275H950" stroke="#86e2dc" stroke-width="10"/>
<path d="M760 1315H830" stroke="#86e2dc" stroke-width="10"/>
<path d="M277 1215V1280A105 35 0 0 0 487 1280V1215" stroke="#e6f6f6" stroke-width="12" fill="#1f4a6a" fill-opacity="0.4"/>
<circle cx="452" cy="1272" r="7" fill="#e6f6f6" stroke="none"/>
<path d="M277 1150V1215A105 35 0 0 0 487 1215V1150" stroke="#e6f6f6" stroke-width="12" fill="#1f4a6a" fill-opacity="0.4"/>
<circle cx="452" cy="1207" r="7" fill="#e6f6f6" stroke="none"/>
<path d="M277 1085V1150A105 35 0 0 0 487 1150V1085" stroke="#e6f6f6" stroke-width="12" fill="#1f4a6a" fill-opacity="0.4"/>
<circle cx="452" cy="1142" r="7" fill="#e6f6f6" stroke="none"/>
<ellipse cx="382" cy="1085" rx="105" ry="35" stroke="#e6f6f6" stroke-width="12" fill="#1f4a6a" fill-opacity="0.4"/>
<path d="M525 1105H690M525 1185H690" stroke="#86e2dc" stroke-width="6" opacity="0.8"/><path d="M585 1120V1290" stroke="#86e2dc" stroke-width="6" opacity="0.6"/><rect x="572" y="1150" width="26" height="60" fill="#86e2dc" opacity="0.7" stroke="none"/>
<rect x="1190" y="830" width="145" height="150" rx="10" stroke="#e6f6f6" stroke-width="10"/><rect x="1226" y="868" width="74" height="74" stroke="#e6f6f6" stroke-width="9"/>
<path d="M1228 795V830M1228 980V1015" stroke="#e6f6f6" stroke-width="8"/>
<path d="M1262 795V830M1262 980V1015" stroke="#e6f6f6" stroke-width="8"/>
<path d="M1296 795V830M1296 980V1015" stroke="#e6f6f6" stroke-width="8"/>
<path d="M1150 868H1190M1335 868H1378" stroke="#e6f6f6" stroke-width="8"/>
<path d="M1150 905H1190M1335 905H1378" stroke="#e6f6f6" stroke-width="8"/>
<path d="M1150 942H1190M1335 942H1378" stroke="#e6f6f6" stroke-width="8"/>
<path d="M1385 902H1575" stroke="#e6f6f6" stroke-width="7" marker-end="url(#ahw)"/>
<path d="M1262 1020V1068" stroke="#e6f6f6" stroke-width="6" marker-end="url(#ahw)"/>
<circle cx="1258" cy="1215" r="56" stroke="#e6f6f6" stroke-width="9"/><circle cx="1258" cy="1215" r="34" stroke="#e6f6f6" stroke-width="7"/><path d="M1258 1195A20 20 0 1 0 1278 1215" stroke="#e6f6f6" stroke-width="7"/>
<path d="M1222 1150V1138H1294V1150" stroke="#e6f6f6" stroke-width="8"/>
<path d="M1020 1232H1200M1150 1240V1300M1365 1240V1300M1316 1240H1575" stroke="#e6f6f6" stroke-width="7"/>
<path d="M1500 1240H1575" stroke="#e6f6f6" stroke-width="7" marker-end="url(#ahw)"/>
<rect x="1128" y="1300" width="50" height="50" stroke="#e6f6f6" stroke-width="8"/><rect x="1342" y="1300" width="50" height="50" stroke="#e6f6f6" stroke-width="8"/>
</g>
<text x="1672.5" y="1074" font-size="24" font-weight="bold" fill="#dff4f2" font-family="Liberation Sans, sans-serif" stroke="#dff4f2" stroke-width="0.48" stroke-linejoin="round" textLength="110.0" lengthAdjust="spacingAndGlyphs" >Duhndized</text>
<text x="1644" y="1099" font-size="24" font-weight="bold" fill="#dff4f2" font-family="Liberation Sans, sans-serif" stroke="#dff4f2" stroke-width="0.48" stroke-linejoin="round" textLength="166" lengthAdjust="spacingAndGlyphs" >data &amp; pipelines</text>
<rect x="1831" y="1069" width="89" height="106" rx="11" fill="#1b456a"/>
<rect x="1932" y="1086" width="134" height="83" rx="11" fill="#1d4166"/>
<rect x="1831" y="1187" width="89" height="80" rx="11" fill="#1b456a"/>
<rect x="1932" y="1181" width="151" height="85" rx="11" fill="#1d4166"/>
<rect x="1831" y="1279" width="89" height="83" rx="11" fill="#1b456a"/>
<rect x="1932" y="1284" width="149" height="66" rx="11" fill="#1d4166"/>
<text x="1849" y="1095" font-size="23.5" font-weight="bold" fill="#eef8f8" font-family="Liberation Sans, sans-serif" stroke="#eef8f8" stroke-width="0.47" stroke-linejoin="round" textLength="53.5" lengthAdjust="spacingAndGlyphs" >Code</text>
<text x="1950" y="1111" font-size="23.5" font-weight="bold" fill="#eef8f8" font-family="Liberation Sans, sans-serif" stroke="#eef8f8" stroke-width="0.47" stroke-linejoin="round" textLength="98" lengthAdjust="spacingAndGlyphs" >Reusable</text>
<text x="1964" y="1135" font-size="23.5" font-weight="bold" fill="#eef8f8" font-family="Liberation Sans, sans-serif" stroke="#eef8f8" stroke-width="0.47" stroke-linejoin="round" textLength="69" lengthAdjust="spacingAndGlyphs" >data &amp;</text>
<text x="1948" y="1159" font-size="23.5" font-weight="bold" fill="#eef8f8" font-family="Liberation Sans, sans-serif" stroke="#eef8f8" stroke-width="0.47" stroke-linejoin="round" textLength="102" lengthAdjust="spacingAndGlyphs" >platforms</text>
<text x="1975" y="1209" font-size="23.5" font-weight="bold" fill="#eef8f8" font-family="Liberation Sans, sans-serif" stroke="#eef8f8" stroke-width="0.47" stroke-linejoin="round" textLength="65" lengthAdjust="spacingAndGlyphs" >Model</text>
<text x="1944" y="1232.5" font-size="23.5" font-weight="bold" fill="#eef8f8" font-family="Liberation Sans, sans-serif" stroke="#eef8f8" stroke-width="0.47" stroke-linejoin="round" textLength="127" lengthAdjust="spacingAndGlyphs" >deployment</text>
<text x="1970" y="1256" font-size="23.5" font-weight="bold" fill="#eef8f8" font-family="Liberation Sans, sans-serif" stroke="#eef8f8" stroke-width="0.47" stroke-linejoin="round" textLength="75" lengthAdjust="spacingAndGlyphs" >betters</text>
<text x="1943" y="1314" font-size="23.5" font-weight="bold" fill="#eef8f8" font-family="Liberation Sans, sans-serif" stroke="#eef8f8" stroke-width="0.47" stroke-linejoin="round" textLength="126" lengthAdjust="spacingAndGlyphs" >Governance</text>
<text x="1951" y="1337.5" font-size="23.5" font-weight="bold" fill="#eef8f8" font-family="Liberation Sans, sans-serif" stroke="#eef8f8" stroke-width="0.47" stroke-linejoin="round" textLength="110" lengthAdjust="spacingAndGlyphs" >structures</text>
<rect x="1844" y="1105" width="63" height="54" fill="none" stroke="#eef8f8" stroke-width="2.6"/><path d="M1844 1113H1907" stroke="#eef8f8" stroke-width="2"/>
<path d="M1852 1122H1866" stroke="#eef8f8" stroke-width="2.2" opacity="0.9"/>
<path d="M1858 1130H1896" stroke="#eef8f8" stroke-width="2.2" opacity="0.9"/>
<path d="M1852 1138H1880" stroke="#eef8f8" stroke-width="2.2" opacity="0.9"/>
<path d="M1858 1146H1892" stroke="#eef8f8" stroke-width="2.2" opacity="0.9"/>
<path d="M1852 1153H1872" stroke="#eef8f8" stroke-width="2.2" opacity="0.9"/>
<g fill="none" stroke="#9fe0dc" stroke-width="2" opacity="0.9">
<path d="M1850 1220C1848 1210 1858 1202 1868 1204C1874 1198 1888 1198 1892 1204C1902 1203 1908 1212 1904 1220C1908 1228 1900 1236 1892 1234C1888 1240 1880 1240 1878 1236L1878 1248M1850 1220C1848 1230 1858 1236 1866 1233C1868 1238 1874 1240 1878 1236M1868 1204C1868 1212 1874 1216 1880 1214M1892 1204C1890 1212 1894 1218 1900 1218M1858 1222C1864 1220 1870 1224 1870 1230M1884 1222C1890 1222 1894 1226 1892 1232"/>
<path d="M1833 1214H1848M1906 1214H1918" stroke-dasharray="3 3"/>
</g>
<path d="M1833 1257H1918" stroke="#eef8f8" stroke-width="3"/>
<g fill="none" stroke="#eef8f8" stroke-width="2.8"><path d="M1866 1292H1886V1304C1886 1312 1880 1318 1876 1320C1872 1318 1866 1312 1866 1304Z"/><path d="M1876 1320V1330M1850 1340V1330H1902V1340M1876 1330V1340"/><rect x="1843" y="1340" width="14" height="12"/><rect x="1869" y="1340" width="14" height="12"/><rect x="1895" y="1340" width="14" height="12"/></g>
<g clip-path="url(#clipT5h)"><g stroke="#55b592" stroke-width="1.9" fill="none" opacity="0.9">
<path d="M2588.3 958.8L2683.7 948.8"/>
<path d="M2683.7 948.8L2650.4 904"/>
<path d="M2652.5 904L2624 999"/>
<path d="M2683.7 948.8L2680.9 904"/>
<path d="M2683.7 948.8L2771.8 932.2"/>
<path d="M2683.7 948.8L2745.8 972.7"/>
<path d="M2683.7 948.8L2635.4 998"/>
<path d="M2683.7 948.8L2703 998"/>
<path d="M2771.8 932.2L2741.9 904"/>
<path d="M2771.8 932.2L2768.5 904"/>
<path d="M2771.8 932.2L2816 906.7"/>
<path d="M2771.8 932.2L2745.8 972.7"/>
<path d="M2771.8 932.2L2798.5 998"/>
<path d="M2771.8 932.2L2816 955.5"/>
<path d="M2745.8 972.7L2767.4 998"/>
<path d="M2708.6 904L2706.4 911"/>
<path d="M2665 990L2682 998"/>
</g>
<circle cx="2588.3" cy="958.8" r="6.7" fill="#72c4a2"/>
<circle cx="2619.9" cy="923.9" r="4" fill="#72c4a2"/>
<circle cx="2683.7" cy="948.8" r="11" fill="#80c99c"/>
<circle cx="2771.8" cy="932.2" r="12" fill="#74c790"/>
<circle cx="2745.8" cy="972.7" r="10.5" fill="#70c792"/>
<circle cx="2816" cy="971" r="4.5" fill="#70c792"/>
</g>
</svg>
</body></html>
